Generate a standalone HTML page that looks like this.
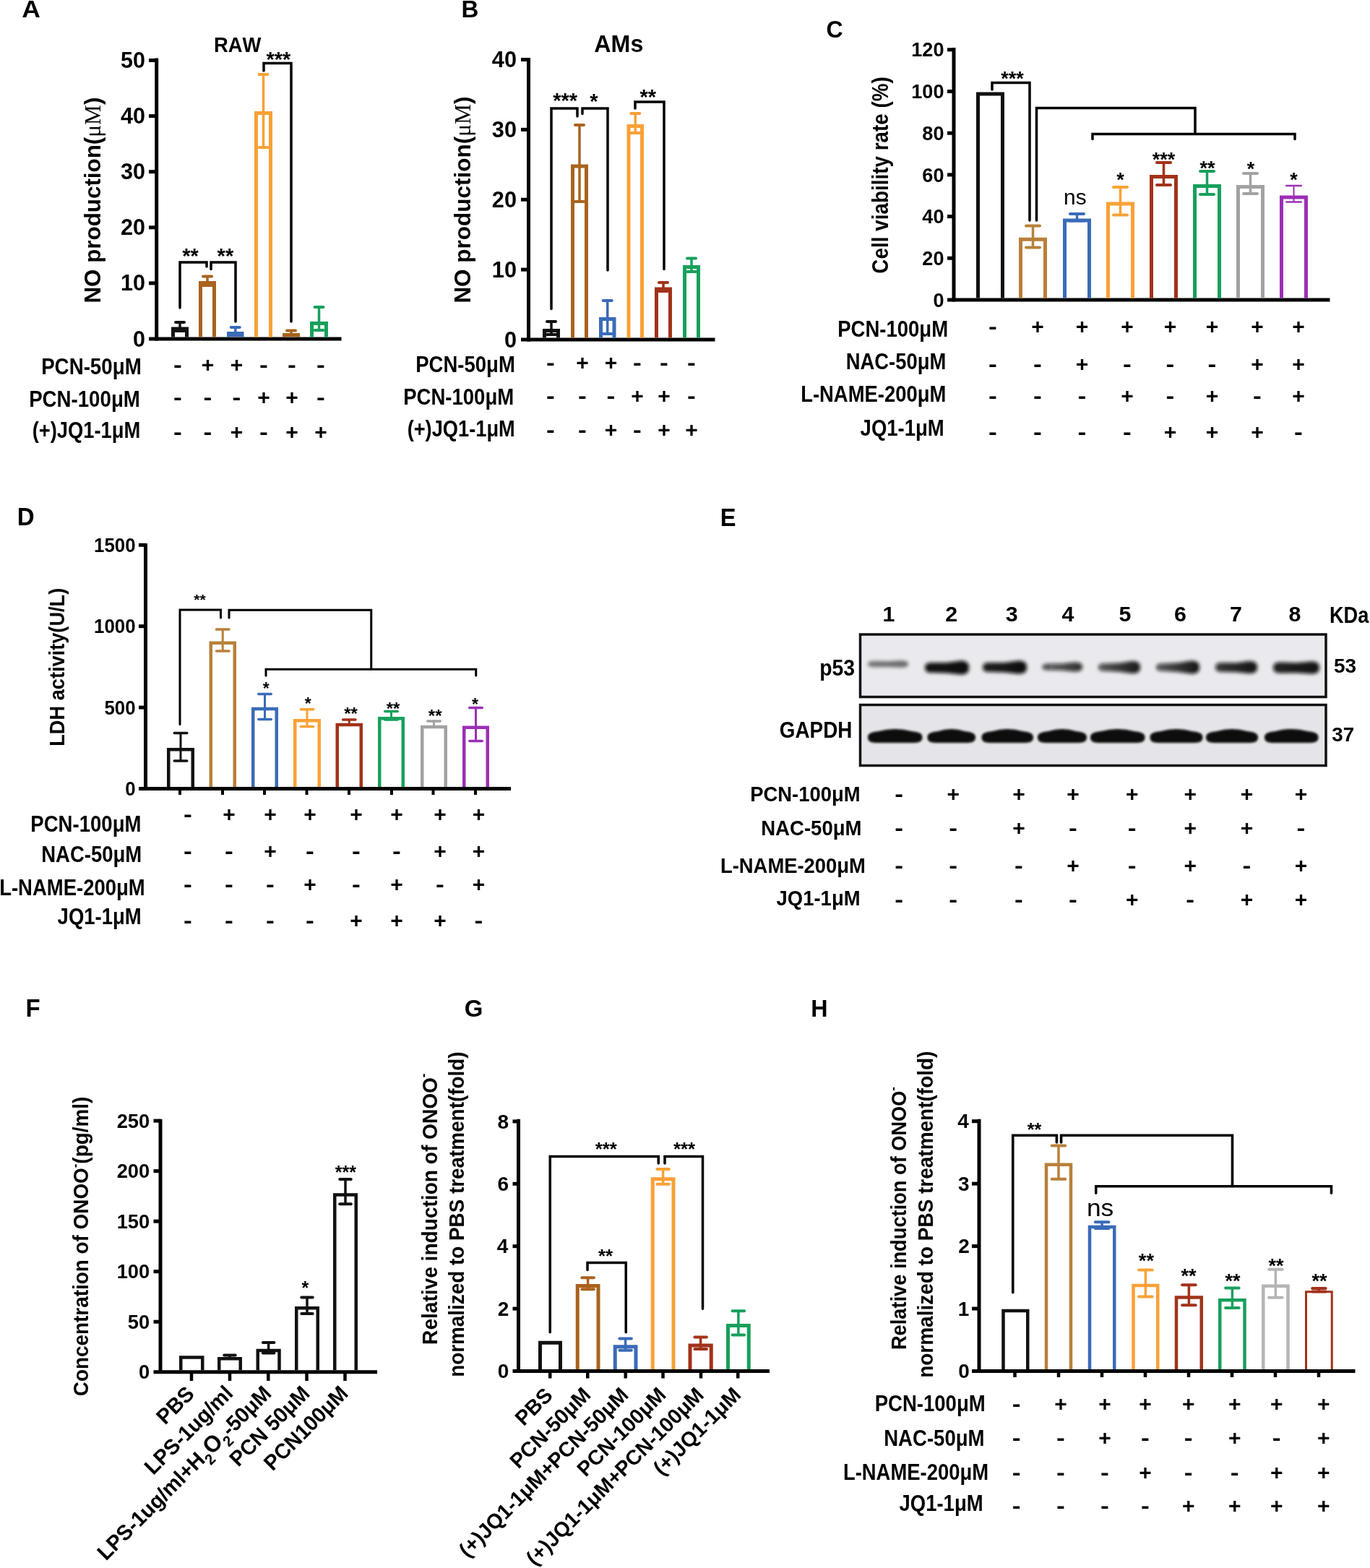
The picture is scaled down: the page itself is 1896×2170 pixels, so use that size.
<!DOCTYPE html>
<html><head><meta charset="utf-8"><title>Figure</title>
<style>html,body{margin:0;padding:0;background:#fff;} svg{display:block;} text{font-kerning:none;}</style>
</head><body>
<svg width="1896" height="2170" viewBox="0 0 1896 2170">
<rect width="1896" height="2170" fill="#fff"/>
<text transform="translate(30.36,24.10) scale(1.0549,1)" font-family='"Liberation Sans", Arial, sans-serif' font-weight="bold" font-size="33.70" fill="#000">A</text>
<text transform="translate(295.97,71.50) scale(0.9046,1)" font-family='"Liberation Sans", Arial, sans-serif' font-weight="bold" font-size="30.30" fill="#000">RAW</text>
<line x1="216.70" y1="80.60" x2="216.70" y2="471.50" stroke="#000" stroke-width="5" stroke-linecap="butt"/>
<line x1="206.00" y1="469.00" x2="472.50" y2="469.00" stroke="#000" stroke-width="5" stroke-linecap="butt"/>
<line x1="206.00" y1="391.90" x2="216.70" y2="391.90" stroke="#000" stroke-width="5" stroke-linecap="butt"/>
<line x1="206.00" y1="314.80" x2="216.70" y2="314.80" stroke="#000" stroke-width="5" stroke-linecap="butt"/>
<line x1="206.00" y1="237.70" x2="216.70" y2="237.70" stroke="#000" stroke-width="5" stroke-linecap="butt"/>
<line x1="206.00" y1="160.60" x2="216.70" y2="160.60" stroke="#000" stroke-width="5" stroke-linecap="butt"/>
<line x1="206.00" y1="83.50" x2="216.70" y2="83.50" stroke="#000" stroke-width="5" stroke-linecap="butt"/>
<text transform="translate(184.06,479.53) scale(0.9982,1)" font-family='"Liberation Sans", Arial, sans-serif' font-weight="bold" font-size="30.60" fill="#000">0</text>
<text transform="translate(167.08,402.43) scale(0.9982,1)" font-family='"Liberation Sans", Arial, sans-serif' font-weight="bold" font-size="30.60" fill="#000">10</text>
<text transform="translate(167.08,325.33) scale(0.9982,1)" font-family='"Liberation Sans", Arial, sans-serif' font-weight="bold" font-size="30.60" fill="#000">20</text>
<text transform="translate(167.08,248.21) scale(0.9982,1)" font-family='"Liberation Sans", Arial, sans-serif' font-weight="bold" font-size="30.60" fill="#000">30</text>
<text transform="translate(167.08,171.13) scale(0.9982,1)" font-family='"Liberation Sans", Arial, sans-serif' font-weight="bold" font-size="30.60" fill="#000">40</text>
<text transform="translate(167.08,94.03) scale(0.9982,1)" font-family='"Liberation Sans", Arial, sans-serif' font-weight="bold" font-size="30.60" fill="#000">50</text>
<text transform="translate(138.80,419.60) rotate(-90) scale(1.0285,1)" font-family='"Liberation Sans", Arial, sans-serif' font-weight="bold" font-size="30.50" fill="#000">NO production(<tspan font-family='"Liberation Serif", "Times New Roman", serif' font-weight="normal">μM</tspan>)</text>
<path d="M239.50,466.60 V455.00 H258.50 V466.60" fill="none" stroke="#111111" stroke-width="5" stroke-linejoin="miter" stroke-linecap="butt"/>
<line x1="249.00" y1="454.50" x2="249.00" y2="446.00" stroke="#111111" stroke-width="3.5" stroke-linecap="butt"/>
<line x1="243.00" y1="446.00" x2="255.00" y2="446.00" stroke="#111111" stroke-width="4" stroke-linecap="round"/>
<line x1="249.00" y1="454.50" x2="249.00" y2="458.00" stroke="#111111" stroke-width="3.5" stroke-linecap="butt"/>
<line x1="243.00" y1="458.00" x2="255.00" y2="458.00" stroke="#111111" stroke-width="4" stroke-linecap="round"/>
<path d="M277.50,466.60 V391.50 H296.50 V466.60" fill="none" stroke="#A9631D" stroke-width="5" stroke-linejoin="miter" stroke-linecap="butt"/>
<line x1="287.00" y1="391.00" x2="287.00" y2="382.50" stroke="#A9631D" stroke-width="3.5" stroke-linecap="butt"/>
<line x1="281.00" y1="382.50" x2="293.00" y2="382.50" stroke="#A9631D" stroke-width="4" stroke-linecap="round"/>
<line x1="287.00" y1="391.00" x2="287.00" y2="395.00" stroke="#A9631D" stroke-width="3.5" stroke-linecap="butt"/>
<line x1="281.00" y1="395.00" x2="293.00" y2="395.00" stroke="#A9631D" stroke-width="4" stroke-linecap="round"/>
<path d="M316.50,466.60 V461.50 H335.00 V466.60" fill="none" stroke="#3A6BB8" stroke-width="5" stroke-linejoin="miter" stroke-linecap="butt"/>
<line x1="325.75" y1="461.00" x2="325.75" y2="453.00" stroke="#3A6BB8" stroke-width="3.5" stroke-linecap="butt"/>
<line x1="319.75" y1="453.00" x2="331.75" y2="453.00" stroke="#3A6BB8" stroke-width="4" stroke-linecap="round"/>
<line x1="325.75" y1="461.00" x2="325.75" y2="464.00" stroke="#3A6BB8" stroke-width="3.5" stroke-linecap="butt"/>
<line x1="319.75" y1="464.00" x2="331.75" y2="464.00" stroke="#3A6BB8" stroke-width="4" stroke-linecap="round"/>
<path d="M354.50,466.60 V156.50 H374.50 V466.60" fill="none" stroke="#F9A136" stroke-width="5" stroke-linejoin="miter" stroke-linecap="butt"/>
<line x1="364.50" y1="156.00" x2="364.50" y2="103.00" stroke="#F9A136" stroke-width="3.5" stroke-linecap="butt"/>
<line x1="358.50" y1="103.00" x2="370.50" y2="103.00" stroke="#F9A136" stroke-width="4" stroke-linecap="round"/>
<line x1="364.50" y1="156.00" x2="364.50" y2="204.00" stroke="#F9A136" stroke-width="3.5" stroke-linecap="butt"/>
<line x1="358.50" y1="204.00" x2="370.50" y2="204.00" stroke="#F9A136" stroke-width="4" stroke-linecap="round"/>
<path d="M393.50,466.60 V463.50 H412.50 V466.60" fill="none" stroke="#A9631D" stroke-width="5" stroke-linejoin="miter" stroke-linecap="butt"/>
<line x1="403.00" y1="463.00" x2="403.00" y2="457.50" stroke="#A9631D" stroke-width="3.5" stroke-linecap="butt"/>
<line x1="397.00" y1="457.50" x2="409.00" y2="457.50" stroke="#A9631D" stroke-width="4" stroke-linecap="round"/>
<line x1="403.00" y1="463.00" x2="403.00" y2="464.00" stroke="#A9631D" stroke-width="3.5" stroke-linecap="butt"/>
<line x1="397.00" y1="464.00" x2="409.00" y2="464.00" stroke="#A9631D" stroke-width="4" stroke-linecap="round"/>
<path d="M431.50,466.60 V447.50 H451.50 V466.60" fill="none" stroke="#17A05C" stroke-width="5" stroke-linejoin="miter" stroke-linecap="butt"/>
<line x1="441.50" y1="447.00" x2="441.50" y2="425.00" stroke="#17A05C" stroke-width="3.5" stroke-linecap="butt"/>
<line x1="435.50" y1="425.00" x2="447.50" y2="425.00" stroke="#17A05C" stroke-width="4" stroke-linecap="round"/>
<line x1="441.50" y1="447.00" x2="441.50" y2="457.00" stroke="#17A05C" stroke-width="3.5" stroke-linecap="butt"/>
<line x1="435.50" y1="457.00" x2="447.50" y2="457.00" stroke="#17A05C" stroke-width="4" stroke-linecap="round"/>
<path d="M249,426 V363 H286 V369" fill="none" stroke="#000" stroke-width="3.5" stroke-linecap="round" stroke-linejoin="miter"/>
<path d="M292,372.5 V363 H326 V445" fill="none" stroke="#000" stroke-width="3.5" stroke-linecap="round" stroke-linejoin="miter"/>
<path d="M365,98 V87.5 H403 V445" fill="none" stroke="#000" stroke-width="3.5" stroke-linecap="round" stroke-linejoin="miter"/>
<text transform="translate(252.29,363.95)" font-family='"Liberation Sans", Arial, sans-serif' font-weight="bold" font-size="29.00" fill="#000">**</text>
<text transform="translate(300.59,363.95)" font-family='"Liberation Sans", Arial, sans-serif' font-weight="bold" font-size="29.00" fill="#000">**</text>
<text transform="translate(368.54,92.45)" font-family='"Liberation Sans", Arial, sans-serif' font-weight="bold" font-size="29.00" fill="#000">***</text>
<text transform="translate(57.14,518.00) scale(0.9093,1)" font-family='"Liberation Sans", Arial, sans-serif' font-weight="bold" font-size="30.50" fill="#000">PCN-50μM</text>
<text transform="translate(40.15,563.00) scale(0.9067,1)" font-family='"Liberation Sans", Arial, sans-serif' font-weight="bold" font-size="30.50" fill="#000">PCN-100μM</text>
<text transform="translate(44.64,605.50) scale(0.8966,1)" font-family='"Liberation Sans", Arial, sans-serif' font-weight="bold" font-size="30.50" fill="#000">(+)JQ1-1μM</text>
<text transform="translate(240.12,515.48) scale(1.1800,1)" font-family='"Liberation Sans", Arial, sans-serif' font-weight="bold" font-size="30.00" fill="#000">-</text>
<text transform="translate(278.72,515.48)" font-family='"Liberation Sans", Arial, sans-serif' font-weight="bold" font-size="30.00" fill="#000">+</text>
<text transform="translate(318.72,515.48)" font-family='"Liberation Sans", Arial, sans-serif' font-weight="bold" font-size="30.00" fill="#000">+</text>
<text transform="translate(359.12,515.48) scale(1.1800,1)" font-family='"Liberation Sans", Arial, sans-serif' font-weight="bold" font-size="30.00" fill="#000">-</text>
<text transform="translate(398.12,515.48) scale(1.1800,1)" font-family='"Liberation Sans", Arial, sans-serif' font-weight="bold" font-size="30.00" fill="#000">-</text>
<text transform="translate(438.12,515.48) scale(1.1800,1)" font-family='"Liberation Sans", Arial, sans-serif' font-weight="bold" font-size="30.00" fill="#000">-</text>
<text transform="translate(240.12,560.48) scale(1.1800,1)" font-family='"Liberation Sans", Arial, sans-serif' font-weight="bold" font-size="30.00" fill="#000">-</text>
<text transform="translate(281.62,560.48) scale(1.1800,1)" font-family='"Liberation Sans", Arial, sans-serif' font-weight="bold" font-size="30.00" fill="#000">-</text>
<text transform="translate(321.62,560.48) scale(1.1800,1)" font-family='"Liberation Sans", Arial, sans-serif' font-weight="bold" font-size="30.00" fill="#000">-</text>
<text transform="translate(356.22,560.48)" font-family='"Liberation Sans", Arial, sans-serif' font-weight="bold" font-size="30.00" fill="#000">+</text>
<text transform="translate(395.22,560.48)" font-family='"Liberation Sans", Arial, sans-serif' font-weight="bold" font-size="30.00" fill="#000">+</text>
<text transform="translate(438.12,560.48) scale(1.1800,1)" font-family='"Liberation Sans", Arial, sans-serif' font-weight="bold" font-size="30.00" fill="#000">-</text>
<text transform="translate(240.12,607.98) scale(1.1800,1)" font-family='"Liberation Sans", Arial, sans-serif' font-weight="bold" font-size="30.00" fill="#000">-</text>
<text transform="translate(281.62,607.98) scale(1.1800,1)" font-family='"Liberation Sans", Arial, sans-serif' font-weight="bold" font-size="30.00" fill="#000">-</text>
<text transform="translate(318.72,607.98)" font-family='"Liberation Sans", Arial, sans-serif' font-weight="bold" font-size="30.00" fill="#000">+</text>
<text transform="translate(359.12,607.98) scale(1.1800,1)" font-family='"Liberation Sans", Arial, sans-serif' font-weight="bold" font-size="30.00" fill="#000">-</text>
<text transform="translate(395.22,607.98)" font-family='"Liberation Sans", Arial, sans-serif' font-weight="bold" font-size="30.00" fill="#000">+</text>
<text transform="translate(435.22,607.98)" font-family='"Liberation Sans", Arial, sans-serif' font-weight="bold" font-size="30.00" fill="#000">+</text>
<text transform="translate(638.58,24.10) scale(0.9829,1)" font-family='"Liberation Sans", Arial, sans-serif' font-weight="bold" font-size="33.70" fill="#000">B</text>
<text transform="translate(822.30,71.80) scale(0.9476,1)" font-family='"Liberation Sans", Arial, sans-serif' font-weight="bold" font-size="34.00" fill="#000">AMs</text>
<line x1="731.50" y1="80.00" x2="731.50" y2="472.50" stroke="#000" stroke-width="5" stroke-linecap="butt"/>
<line x1="721.00" y1="470.00" x2="989.50" y2="470.00" stroke="#000" stroke-width="5" stroke-linecap="butt"/>
<line x1="721.00" y1="373.12" x2="731.50" y2="373.12" stroke="#000" stroke-width="5" stroke-linecap="butt"/>
<line x1="721.00" y1="276.25" x2="731.50" y2="276.25" stroke="#000" stroke-width="5" stroke-linecap="butt"/>
<line x1="721.00" y1="179.38" x2="731.50" y2="179.38" stroke="#000" stroke-width="5" stroke-linecap="butt"/>
<line x1="721.00" y1="82.50" x2="731.50" y2="82.50" stroke="#000" stroke-width="5" stroke-linecap="butt"/>
<text transform="translate(697.96,480.53) scale(1.0047,1)" font-family='"Liberation Sans", Arial, sans-serif' font-weight="bold" font-size="30.60" fill="#000">0</text>
<text transform="translate(680.86,383.66) scale(1.0047,1)" font-family='"Liberation Sans", Arial, sans-serif' font-weight="bold" font-size="30.60" fill="#000">10</text>
<text transform="translate(680.86,286.78) scale(1.0047,1)" font-family='"Liberation Sans", Arial, sans-serif' font-weight="bold" font-size="30.60" fill="#000">20</text>
<text transform="translate(680.86,189.89) scale(1.0047,1)" font-family='"Liberation Sans", Arial, sans-serif' font-weight="bold" font-size="30.60" fill="#000">30</text>
<text transform="translate(680.86,93.03) scale(1.0047,1)" font-family='"Liberation Sans", Arial, sans-serif' font-weight="bold" font-size="30.60" fill="#000">40</text>
<text transform="translate(651.20,419.61) rotate(-90) scale(1.0322,1)" font-family='"Liberation Sans", Arial, sans-serif' font-weight="bold" font-size="30.50" fill="#000">NO production(<tspan font-family='"Liberation Serif", "Times New Roman", serif' font-weight="normal">μM</tspan>)</text>
<path d="M753.50,467.60 V457.50 H772.50 V467.60" fill="none" stroke="#111111" stroke-width="5" stroke-linejoin="miter" stroke-linecap="butt"/>
<line x1="763.00" y1="457.00" x2="763.00" y2="445.00" stroke="#111111" stroke-width="3.5" stroke-linecap="butt"/>
<line x1="757.00" y1="445.00" x2="769.00" y2="445.00" stroke="#111111" stroke-width="4" stroke-linecap="round"/>
<line x1="763.00" y1="457.00" x2="763.00" y2="463.00" stroke="#111111" stroke-width="3.5" stroke-linecap="butt"/>
<line x1="757.00" y1="463.00" x2="769.00" y2="463.00" stroke="#111111" stroke-width="4" stroke-linecap="round"/>
<path d="M792.50,467.60 V230.00 H811.50 V467.60" fill="none" stroke="#A9631D" stroke-width="5" stroke-linejoin="miter" stroke-linecap="butt"/>
<line x1="802.00" y1="229.50" x2="802.00" y2="173.00" stroke="#A9631D" stroke-width="3.5" stroke-linecap="butt"/>
<line x1="796.00" y1="173.00" x2="808.00" y2="173.00" stroke="#A9631D" stroke-width="4" stroke-linecap="round"/>
<line x1="802.00" y1="229.50" x2="802.00" y2="279.00" stroke="#A9631D" stroke-width="3.5" stroke-linecap="butt"/>
<line x1="796.00" y1="279.00" x2="808.00" y2="279.00" stroke="#A9631D" stroke-width="4" stroke-linecap="round"/>
<path d="M831.50,467.60 V441.50 H850.00 V467.60" fill="none" stroke="#3A6BB8" stroke-width="5" stroke-linejoin="miter" stroke-linecap="butt"/>
<line x1="840.75" y1="441.00" x2="840.75" y2="416.00" stroke="#3A6BB8" stroke-width="3.5" stroke-linecap="butt"/>
<line x1="834.75" y1="416.00" x2="846.75" y2="416.00" stroke="#3A6BB8" stroke-width="4" stroke-linecap="round"/>
<line x1="840.75" y1="441.00" x2="840.75" y2="462.00" stroke="#3A6BB8" stroke-width="3.5" stroke-linecap="butt"/>
<line x1="834.75" y1="462.00" x2="846.75" y2="462.00" stroke="#3A6BB8" stroke-width="4" stroke-linecap="round"/>
<path d="M870.00,467.60 V174.50 H888.50 V467.60" fill="none" stroke="#F9A136" stroke-width="5" stroke-linejoin="miter" stroke-linecap="butt"/>
<line x1="879.25" y1="174.00" x2="879.25" y2="157.00" stroke="#F9A136" stroke-width="3.5" stroke-linecap="butt"/>
<line x1="873.25" y1="157.00" x2="885.25" y2="157.00" stroke="#F9A136" stroke-width="4" stroke-linecap="round"/>
<line x1="879.25" y1="174.00" x2="879.25" y2="184.00" stroke="#F9A136" stroke-width="3.5" stroke-linecap="butt"/>
<line x1="873.25" y1="184.00" x2="885.25" y2="184.00" stroke="#F9A136" stroke-width="4" stroke-linecap="round"/>
<path d="M908.50,467.60 V400.00 H927.50 V467.60" fill="none" stroke="#A2321A" stroke-width="5" stroke-linejoin="miter" stroke-linecap="butt"/>
<line x1="918.00" y1="399.50" x2="918.00" y2="391.00" stroke="#A2321A" stroke-width="3.5" stroke-linecap="butt"/>
<line x1="912.00" y1="391.00" x2="924.00" y2="391.00" stroke="#A2321A" stroke-width="4" stroke-linecap="round"/>
<line x1="918.00" y1="399.50" x2="918.00" y2="403.00" stroke="#A2321A" stroke-width="3.5" stroke-linecap="butt"/>
<line x1="912.00" y1="403.00" x2="924.00" y2="403.00" stroke="#A2321A" stroke-width="4" stroke-linecap="round"/>
<path d="M947.50,467.60 V369.50 H966.50 V467.60" fill="none" stroke="#17A05C" stroke-width="5" stroke-linejoin="miter" stroke-linecap="butt"/>
<line x1="957.00" y1="369.00" x2="957.00" y2="357.50" stroke="#17A05C" stroke-width="3.5" stroke-linecap="butt"/>
<line x1="951.00" y1="357.50" x2="963.00" y2="357.50" stroke="#17A05C" stroke-width="4" stroke-linecap="round"/>
<line x1="957.00" y1="369.00" x2="957.00" y2="376.00" stroke="#17A05C" stroke-width="3.5" stroke-linecap="butt"/>
<line x1="951.00" y1="376.00" x2="963.00" y2="376.00" stroke="#17A05C" stroke-width="4" stroke-linecap="round"/>
<path d="M763,427.5 V150 H799 V161" fill="none" stroke="#000" stroke-width="3.5" stroke-linecap="round" stroke-linejoin="miter"/>
<path d="M806,157.5 V150 H841 V374" fill="none" stroke="#000" stroke-width="3.5" stroke-linecap="round" stroke-linejoin="miter"/>
<path d="M879,150 V141 H919 V372.5" fill="none" stroke="#000" stroke-width="3.5" stroke-linecap="round" stroke-linejoin="miter"/>
<text transform="translate(765.24,148.95)" font-family='"Liberation Sans", Arial, sans-serif' font-weight="bold" font-size="29.00" fill="#000">***</text>
<text transform="translate(816.13,149.95)" font-family='"Liberation Sans", Arial, sans-serif' font-weight="bold" font-size="29.00" fill="#000">*</text>
<text transform="translate(885.49,143.95)" font-family='"Liberation Sans", Arial, sans-serif' font-weight="bold" font-size="29.00" fill="#000">**</text>
<text transform="translate(575.16,515.00) scale(0.9026,1)" font-family='"Liberation Sans", Arial, sans-serif' font-weight="bold" font-size="30.50" fill="#000">PCN-50μM</text>
<text transform="translate(558.16,560.00) scale(0.9037,1)" font-family='"Liberation Sans", Arial, sans-serif' font-weight="bold" font-size="30.50" fill="#000">PCN-100μM</text>
<text transform="translate(563.64,604.00) scale(0.8935,1)" font-family='"Liberation Sans", Arial, sans-serif' font-weight="bold" font-size="30.50" fill="#000">(+)JQ1-1μM</text>
<text transform="translate(756.12,512.48) scale(1.1800,1)" font-family='"Liberation Sans", Arial, sans-serif' font-weight="bold" font-size="30.00" fill="#000">-</text>
<text transform="translate(797.22,512.48)" font-family='"Liberation Sans", Arial, sans-serif' font-weight="bold" font-size="30.00" fill="#000">+</text>
<text transform="translate(836.72,512.48)" font-family='"Liberation Sans", Arial, sans-serif' font-weight="bold" font-size="30.00" fill="#000">+</text>
<text transform="translate(876.12,512.48) scale(1.1800,1)" font-family='"Liberation Sans", Arial, sans-serif' font-weight="bold" font-size="30.00" fill="#000">-</text>
<text transform="translate(913.12,512.48) scale(1.1800,1)" font-family='"Liberation Sans", Arial, sans-serif' font-weight="bold" font-size="30.00" fill="#000">-</text>
<text transform="translate(951.12,512.48) scale(1.1800,1)" font-family='"Liberation Sans", Arial, sans-serif' font-weight="bold" font-size="30.00" fill="#000">-</text>
<text transform="translate(756.12,557.98) scale(1.1800,1)" font-family='"Liberation Sans", Arial, sans-serif' font-weight="bold" font-size="30.00" fill="#000">-</text>
<text transform="translate(800.12,557.98) scale(1.1800,1)" font-family='"Liberation Sans", Arial, sans-serif' font-weight="bold" font-size="30.00" fill="#000">-</text>
<text transform="translate(839.62,557.98) scale(1.1800,1)" font-family='"Liberation Sans", Arial, sans-serif' font-weight="bold" font-size="30.00" fill="#000">-</text>
<text transform="translate(873.22,557.98)" font-family='"Liberation Sans", Arial, sans-serif' font-weight="bold" font-size="30.00" fill="#000">+</text>
<text transform="translate(910.22,557.98)" font-family='"Liberation Sans", Arial, sans-serif' font-weight="bold" font-size="30.00" fill="#000">+</text>
<text transform="translate(951.12,557.98) scale(1.1800,1)" font-family='"Liberation Sans", Arial, sans-serif' font-weight="bold" font-size="30.00" fill="#000">-</text>
<text transform="translate(756.12,604.98) scale(1.1800,1)" font-family='"Liberation Sans", Arial, sans-serif' font-weight="bold" font-size="30.00" fill="#000">-</text>
<text transform="translate(800.12,604.98) scale(1.1800,1)" font-family='"Liberation Sans", Arial, sans-serif' font-weight="bold" font-size="30.00" fill="#000">-</text>
<text transform="translate(836.72,604.98)" font-family='"Liberation Sans", Arial, sans-serif' font-weight="bold" font-size="30.00" fill="#000">+</text>
<text transform="translate(876.12,604.98) scale(1.1800,1)" font-family='"Liberation Sans", Arial, sans-serif' font-weight="bold" font-size="30.00" fill="#000">-</text>
<text transform="translate(910.22,604.98)" font-family='"Liberation Sans", Arial, sans-serif' font-weight="bold" font-size="30.00" fill="#000">+</text>
<text transform="translate(948.22,604.98)" font-family='"Liberation Sans", Arial, sans-serif' font-weight="bold" font-size="30.00" fill="#000">+</text>
<text transform="translate(1143.48,52.30) scale(0.9447,1)" font-family='"Liberation Sans", Arial, sans-serif' font-weight="bold" font-size="34.00" fill="#000">C</text>
<line x1="1320.00" y1="66.00" x2="1320.00" y2="417.50" stroke="#000" stroke-width="5" stroke-linecap="butt"/>
<line x1="1311.00" y1="415.00" x2="1840.50" y2="415.00" stroke="#000" stroke-width="5" stroke-linecap="butt"/>
<line x1="1311.00" y1="357.30" x2="1320.00" y2="357.30" stroke="#000" stroke-width="5" stroke-linecap="butt"/>
<line x1="1311.00" y1="299.60" x2="1320.00" y2="299.60" stroke="#000" stroke-width="5" stroke-linecap="butt"/>
<line x1="1311.00" y1="241.90" x2="1320.00" y2="241.90" stroke="#000" stroke-width="5" stroke-linecap="butt"/>
<line x1="1311.00" y1="184.20" x2="1320.00" y2="184.20" stroke="#000" stroke-width="5" stroke-linecap="butt"/>
<line x1="1311.00" y1="126.50" x2="1320.00" y2="126.50" stroke="#000" stroke-width="5" stroke-linecap="butt"/>
<line x1="1311.00" y1="68.80" x2="1320.00" y2="68.80" stroke="#000" stroke-width="5" stroke-linecap="butt"/>
<text transform="translate(1291.44,424.64) scale(0.9679,1)" font-family='"Liberation Sans", Arial, sans-serif' font-weight="bold" font-size="28.00" fill="#000">0</text>
<text transform="translate(1276.37,366.94) scale(0.9679,1)" font-family='"Liberation Sans", Arial, sans-serif' font-weight="bold" font-size="28.00" fill="#000">20</text>
<text transform="translate(1276.37,309.24) scale(0.9679,1)" font-family='"Liberation Sans", Arial, sans-serif' font-weight="bold" font-size="28.00" fill="#000">40</text>
<text transform="translate(1276.37,251.54) scale(0.9679,1)" font-family='"Liberation Sans", Arial, sans-serif' font-weight="bold" font-size="28.00" fill="#000">60</text>
<text transform="translate(1276.37,193.84) scale(0.9679,1)" font-family='"Liberation Sans", Arial, sans-serif' font-weight="bold" font-size="28.00" fill="#000">80</text>
<text transform="translate(1261.29,136.14) scale(0.9679,1)" font-family='"Liberation Sans", Arial, sans-serif' font-weight="bold" font-size="28.00" fill="#000">100</text>
<text transform="translate(1261.29,78.44) scale(0.9679,1)" font-family='"Liberation Sans", Arial, sans-serif' font-weight="bold" font-size="28.00" fill="#000">120</text>
<text transform="translate(1229.00,378.64) rotate(-90) scale(0.8988,1)" font-family='"Liberation Sans", Arial, sans-serif' font-weight="bold" font-size="31.00" fill="#000">Cell viability rate (%)</text>
<path d="M1353.50,412.60 V130.00 H1387.50 V412.60" fill="none" stroke="#111111" stroke-width="5" stroke-linejoin="miter" stroke-linecap="butt"/>
<path d="M1412.50,412.60 V331.25 H1446.50 V412.60" fill="none" stroke="#B8803A" stroke-width="5" stroke-linejoin="miter" stroke-linecap="butt"/>
<line x1="1429.50" y1="330.75" x2="1429.50" y2="312.50" stroke="#B8803A" stroke-width="3.5" stroke-linecap="butt"/>
<line x1="1420.00" y1="312.50" x2="1439.00" y2="312.50" stroke="#B8803A" stroke-width="4.0" stroke-linecap="round"/>
<line x1="1429.50" y1="330.75" x2="1429.50" y2="342.50" stroke="#B8803A" stroke-width="3.5" stroke-linecap="butt"/>
<line x1="1420.00" y1="342.50" x2="1439.00" y2="342.50" stroke="#B8803A" stroke-width="4.0" stroke-linecap="round"/>
<path d="M1473.50,412.60 V305.00 H1507.50 V412.60" fill="none" stroke="#3A6BB8" stroke-width="5" stroke-linejoin="miter" stroke-linecap="butt"/>
<line x1="1490.50" y1="304.50" x2="1490.50" y2="296.00" stroke="#3A6BB8" stroke-width="3.5" stroke-linecap="butt"/>
<line x1="1481.00" y1="296.00" x2="1500.00" y2="296.00" stroke="#3A6BB8" stroke-width="4.0" stroke-linecap="round"/>
<line x1="1490.50" y1="304.50" x2="1490.50" y2="305.50" stroke="#3A6BB8" stroke-width="3.5" stroke-linecap="butt"/>
<line x1="1481.00" y1="305.50" x2="1500.00" y2="305.50" stroke="#3A6BB8" stroke-width="4.0" stroke-linecap="round"/>
<path d="M1533.50,412.60 V282.00 H1567.50 V412.60" fill="none" stroke="#F9A136" stroke-width="5" stroke-linejoin="miter" stroke-linecap="butt"/>
<line x1="1550.50" y1="281.50" x2="1550.50" y2="259.00" stroke="#F9A136" stroke-width="3.5" stroke-linecap="butt"/>
<line x1="1541.00" y1="259.00" x2="1560.00" y2="259.00" stroke="#F9A136" stroke-width="4.0" stroke-linecap="round"/>
<line x1="1550.50" y1="281.50" x2="1550.50" y2="297.50" stroke="#F9A136" stroke-width="3.5" stroke-linecap="butt"/>
<line x1="1541.00" y1="297.50" x2="1560.00" y2="297.50" stroke="#F9A136" stroke-width="4.0" stroke-linecap="round"/>
<path d="M1593.50,412.60 V244.50 H1627.50 V412.60" fill="none" stroke="#A2321A" stroke-width="5" stroke-linejoin="miter" stroke-linecap="butt"/>
<line x1="1610.50" y1="244.00" x2="1610.50" y2="225.00" stroke="#A2321A" stroke-width="3.5" stroke-linecap="butt"/>
<line x1="1601.00" y1="225.00" x2="1620.00" y2="225.00" stroke="#A2321A" stroke-width="4.0" stroke-linecap="round"/>
<line x1="1610.50" y1="244.00" x2="1610.50" y2="256.00" stroke="#A2321A" stroke-width="3.5" stroke-linecap="butt"/>
<line x1="1601.00" y1="256.00" x2="1620.00" y2="256.00" stroke="#A2321A" stroke-width="4.0" stroke-linecap="round"/>
<path d="M1653.50,412.60 V257.50 H1687.50 V412.60" fill="none" stroke="#17A05C" stroke-width="5" stroke-linejoin="miter" stroke-linecap="butt"/>
<line x1="1670.50" y1="257.00" x2="1670.50" y2="237.00" stroke="#17A05C" stroke-width="3.5" stroke-linecap="butt"/>
<line x1="1661.00" y1="237.00" x2="1680.00" y2="237.00" stroke="#17A05C" stroke-width="4.0" stroke-linecap="round"/>
<line x1="1670.50" y1="257.00" x2="1670.50" y2="269.00" stroke="#17A05C" stroke-width="3.5" stroke-linecap="butt"/>
<line x1="1661.00" y1="269.00" x2="1680.00" y2="269.00" stroke="#17A05C" stroke-width="4.0" stroke-linecap="round"/>
<path d="M1713.50,412.60 V258.50 H1747.50 V412.60" fill="none" stroke="#A3A1A3" stroke-width="5" stroke-linejoin="miter" stroke-linecap="butt"/>
<line x1="1730.50" y1="258.00" x2="1730.50" y2="240.00" stroke="#A3A1A3" stroke-width="3.5" stroke-linecap="butt"/>
<line x1="1721.00" y1="240.00" x2="1740.00" y2="240.00" stroke="#A3A1A3" stroke-width="4.0" stroke-linecap="round"/>
<line x1="1730.50" y1="258.00" x2="1730.50" y2="268.00" stroke="#A3A1A3" stroke-width="3.5" stroke-linecap="butt"/>
<line x1="1721.00" y1="268.00" x2="1740.00" y2="268.00" stroke="#A3A1A3" stroke-width="4.0" stroke-linecap="round"/>
<path d="M1773.50,412.60 V273.00 H1807.50 V412.60" fill="none" stroke="#9B2FB5" stroke-width="5" stroke-linejoin="miter" stroke-linecap="butt"/>
<line x1="1790.50" y1="272.50" x2="1790.50" y2="257.00" stroke="#9B2FB5" stroke-width="2" stroke-linecap="butt"/>
<line x1="1780.25" y1="257.00" x2="1800.75" y2="257.00" stroke="#9B2FB5" stroke-width="2.5" stroke-linecap="round"/>
<line x1="1790.50" y1="272.50" x2="1790.50" y2="279.50" stroke="#9B2FB5" stroke-width="2" stroke-linecap="butt"/>
<line x1="1780.25" y1="279.50" x2="1800.75" y2="279.50" stroke="#9B2FB5" stroke-width="2.5" stroke-linecap="round"/>
<path d="M1373,124 V114.5 H1425 V305" fill="none" stroke="#000" stroke-width="3.5" stroke-linecap="round" stroke-linejoin="miter"/>
<path d="M1434.5,305 V149.5 H1654 V185" fill="none" stroke="#000" stroke-width="3.5" stroke-linecap="round" stroke-linejoin="miter"/>
<path d="M1512,192.5 V185.5 H1792 V192.5" fill="none" stroke="#000" stroke-width="3.5" stroke-linecap="round" stroke-linejoin="miter"/>
<text transform="translate(1385.21,117.58)" font-family='"Liberation Sans", Arial, sans-serif' font-weight="bold" font-size="27.00" fill="#000">***</text>
<text transform="translate(1545.22,257.58)" font-family='"Liberation Sans", Arial, sans-serif' font-weight="bold" font-size="27.00" fill="#000">*</text>
<text transform="translate(1594.71,229.58)" font-family='"Liberation Sans", Arial, sans-serif' font-weight="bold" font-size="27.00" fill="#000">***</text>
<text transform="translate(1660.47,241.58)" font-family='"Liberation Sans", Arial, sans-serif' font-weight="bold" font-size="27.00" fill="#000">**</text>
<text transform="translate(1725.72,242.58)" font-family='"Liberation Sans", Arial, sans-serif' font-weight="bold" font-size="27.00" fill="#000">*</text>
<text transform="translate(1785.22,257.58)" font-family='"Liberation Sans", Arial, sans-serif' font-weight="bold" font-size="27.00" fill="#000">*</text>
<text transform="translate(1472.02,282.50) scale(0.9962,1)" font-family='"Liberation Sans", Arial, sans-serif' font-weight="normal" font-size="30.00" fill="#000">ns</text>
<text transform="translate(1159.16,465.50) scale(0.9025,1)" font-family='"Liberation Sans", Arial, sans-serif' font-weight="bold" font-size="30.50" fill="#000">PCN-100μM</text>
<text transform="translate(1170.67,511.00) scale(0.8991,1)" font-family='"Liberation Sans", Arial, sans-serif' font-weight="bold" font-size="30.50" fill="#000">NAC-50μM</text>
<text transform="translate(1108.17,556.00) scale(0.8993,1)" font-family='"Liberation Sans", Arial, sans-serif' font-weight="bold" font-size="30.50" fill="#000">L-NAME-200μM</text>
<text transform="translate(1190.58,602.50) scale(0.9024,1)" font-family='"Liberation Sans", Arial, sans-serif' font-weight="bold" font-size="30.50" fill="#000">JQ1-1μM</text>
<text transform="translate(1368.12,461.98) scale(1.1800,1)" font-family='"Liberation Sans", Arial, sans-serif' font-weight="bold" font-size="30.00" fill="#000">-</text>
<text transform="translate(1427.22,461.98)" font-family='"Liberation Sans", Arial, sans-serif' font-weight="bold" font-size="30.00" fill="#000">+</text>
<text transform="translate(1488.72,461.98)" font-family='"Liberation Sans", Arial, sans-serif' font-weight="bold" font-size="30.00" fill="#000">+</text>
<text transform="translate(1551.22,461.98)" font-family='"Liberation Sans", Arial, sans-serif' font-weight="bold" font-size="30.00" fill="#000">+</text>
<text transform="translate(1610.72,461.98)" font-family='"Liberation Sans", Arial, sans-serif' font-weight="bold" font-size="30.00" fill="#000">+</text>
<text transform="translate(1668.72,461.98)" font-family='"Liberation Sans", Arial, sans-serif' font-weight="bold" font-size="30.00" fill="#000">+</text>
<text transform="translate(1731.22,461.98)" font-family='"Liberation Sans", Arial, sans-serif' font-weight="bold" font-size="30.00" fill="#000">+</text>
<text transform="translate(1788.22,461.98)" font-family='"Liberation Sans", Arial, sans-serif' font-weight="bold" font-size="30.00" fill="#000">+</text>
<text transform="translate(1368.12,513.98) scale(1.1800,1)" font-family='"Liberation Sans", Arial, sans-serif' font-weight="bold" font-size="30.00" fill="#000">-</text>
<text transform="translate(1430.12,513.98) scale(1.1800,1)" font-family='"Liberation Sans", Arial, sans-serif' font-weight="bold" font-size="30.00" fill="#000">-</text>
<text transform="translate(1488.72,513.98)" font-family='"Liberation Sans", Arial, sans-serif' font-weight="bold" font-size="30.00" fill="#000">+</text>
<text transform="translate(1554.12,513.98) scale(1.1800,1)" font-family='"Liberation Sans", Arial, sans-serif' font-weight="bold" font-size="30.00" fill="#000">-</text>
<text transform="translate(1613.62,513.98) scale(1.1800,1)" font-family='"Liberation Sans", Arial, sans-serif' font-weight="bold" font-size="30.00" fill="#000">-</text>
<text transform="translate(1671.62,513.98) scale(1.1800,1)" font-family='"Liberation Sans", Arial, sans-serif' font-weight="bold" font-size="30.00" fill="#000">-</text>
<text transform="translate(1731.22,513.98)" font-family='"Liberation Sans", Arial, sans-serif' font-weight="bold" font-size="30.00" fill="#000">+</text>
<text transform="translate(1788.22,513.98)" font-family='"Liberation Sans", Arial, sans-serif' font-weight="bold" font-size="30.00" fill="#000">+</text>
<text transform="translate(1368.12,558.48) scale(1.1800,1)" font-family='"Liberation Sans", Arial, sans-serif' font-weight="bold" font-size="30.00" fill="#000">-</text>
<text transform="translate(1430.12,558.48) scale(1.1800,1)" font-family='"Liberation Sans", Arial, sans-serif' font-weight="bold" font-size="30.00" fill="#000">-</text>
<text transform="translate(1491.62,558.48) scale(1.1800,1)" font-family='"Liberation Sans", Arial, sans-serif' font-weight="bold" font-size="30.00" fill="#000">-</text>
<text transform="translate(1551.22,558.48)" font-family='"Liberation Sans", Arial, sans-serif' font-weight="bold" font-size="30.00" fill="#000">+</text>
<text transform="translate(1613.62,558.48) scale(1.1800,1)" font-family='"Liberation Sans", Arial, sans-serif' font-weight="bold" font-size="30.00" fill="#000">-</text>
<text transform="translate(1668.72,558.48)" font-family='"Liberation Sans", Arial, sans-serif' font-weight="bold" font-size="30.00" fill="#000">+</text>
<text transform="translate(1734.12,558.48) scale(1.1800,1)" font-family='"Liberation Sans", Arial, sans-serif' font-weight="bold" font-size="30.00" fill="#000">-</text>
<text transform="translate(1788.22,558.48)" font-family='"Liberation Sans", Arial, sans-serif' font-weight="bold" font-size="30.00" fill="#000">+</text>
<text transform="translate(1368.12,608.48) scale(1.1800,1)" font-family='"Liberation Sans", Arial, sans-serif' font-weight="bold" font-size="30.00" fill="#000">-</text>
<text transform="translate(1430.12,608.48) scale(1.1800,1)" font-family='"Liberation Sans", Arial, sans-serif' font-weight="bold" font-size="30.00" fill="#000">-</text>
<text transform="translate(1491.62,608.48) scale(1.1800,1)" font-family='"Liberation Sans", Arial, sans-serif' font-weight="bold" font-size="30.00" fill="#000">-</text>
<text transform="translate(1554.12,608.48) scale(1.1800,1)" font-family='"Liberation Sans", Arial, sans-serif' font-weight="bold" font-size="30.00" fill="#000">-</text>
<text transform="translate(1610.72,608.48)" font-family='"Liberation Sans", Arial, sans-serif' font-weight="bold" font-size="30.00" fill="#000">+</text>
<text transform="translate(1668.72,608.48)" font-family='"Liberation Sans", Arial, sans-serif' font-weight="bold" font-size="30.00" fill="#000">+</text>
<text transform="translate(1731.22,608.48)" font-family='"Liberation Sans", Arial, sans-serif' font-weight="bold" font-size="30.00" fill="#000">+</text>
<text transform="translate(1791.12,608.48) scale(1.1800,1)" font-family='"Liberation Sans", Arial, sans-serif' font-weight="bold" font-size="30.00" fill="#000">-</text>
<text transform="translate(23.79,727.30) scale(0.9594,1)" font-family='"Liberation Sans", Arial, sans-serif' font-weight="bold" font-size="34.50" fill="#000">D</text>
<line x1="201.50" y1="752.00" x2="201.50" y2="1094.00" stroke="#000" stroke-width="5" stroke-linecap="butt"/>
<line x1="192.00" y1="1091.50" x2="707.00" y2="1091.50" stroke="#000" stroke-width="5" stroke-linecap="butt"/>
<line x1="192.00" y1="979.09" x2="201.50" y2="979.09" stroke="#000" stroke-width="5" stroke-linecap="butt"/>
<line x1="192.00" y1="866.67" x2="201.50" y2="866.67" stroke="#000" stroke-width="5" stroke-linecap="butt"/>
<line x1="192.00" y1="754.25" x2="201.50" y2="754.25" stroke="#000" stroke-width="5" stroke-linecap="butt"/>
<line x1="249.00" y1="1091.50" x2="249.00" y2="1100.00" stroke="#000" stroke-width="4" stroke-linecap="butt"/>
<line x1="308.00" y1="1091.50" x2="308.00" y2="1100.00" stroke="#000" stroke-width="4" stroke-linecap="butt"/>
<line x1="366.00" y1="1091.50" x2="366.00" y2="1100.00" stroke="#000" stroke-width="4" stroke-linecap="butt"/>
<line x1="424.50" y1="1091.50" x2="424.50" y2="1100.00" stroke="#000" stroke-width="4" stroke-linecap="butt"/>
<line x1="483.00" y1="1091.50" x2="483.00" y2="1100.00" stroke="#000" stroke-width="4" stroke-linecap="butt"/>
<line x1="542.00" y1="1091.50" x2="542.00" y2="1100.00" stroke="#000" stroke-width="4" stroke-linecap="butt"/>
<line x1="599.50" y1="1091.50" x2="599.50" y2="1100.00" stroke="#000" stroke-width="4" stroke-linecap="butt"/>
<line x1="658.00" y1="1091.50" x2="658.00" y2="1100.00" stroke="#000" stroke-width="4" stroke-linecap="butt"/>
<text transform="translate(173.26,1101.14) scale(0.9246,1)" font-family='"Liberation Sans", Arial, sans-serif' font-weight="bold" font-size="28.00" fill="#000">0</text>
<text transform="translate(144.47,988.72) scale(0.9246,1)" font-family='"Liberation Sans", Arial, sans-serif' font-weight="bold" font-size="28.00" fill="#000">500</text>
<text transform="translate(130.07,876.31) scale(0.9246,1)" font-family='"Liberation Sans", Arial, sans-serif' font-weight="bold" font-size="28.00" fill="#000">1000</text>
<text transform="translate(130.07,763.89) scale(0.9246,1)" font-family='"Liberation Sans", Arial, sans-serif' font-weight="bold" font-size="28.00" fill="#000">1500</text>
<text transform="translate(89.00,1032.82) rotate(-90) scale(0.9381,1)" font-family='"Liberation Sans", Arial, sans-serif' font-weight="bold" font-size="29.00" fill="#000">LDH activity(U/L)</text>
<path d="M233.25,1089.10 V1037.25 H266.75 V1089.10" fill="none" stroke="#111111" stroke-width="4.5" stroke-linejoin="miter" stroke-linecap="butt"/>
<line x1="250.00" y1="1037.00" x2="250.00" y2="1014.50" stroke="#111111" stroke-width="3" stroke-linecap="butt"/>
<line x1="241.25" y1="1014.50" x2="258.75" y2="1014.50" stroke="#111111" stroke-width="3.5" stroke-linecap="round"/>
<line x1="250.00" y1="1037.00" x2="250.00" y2="1053.00" stroke="#111111" stroke-width="3" stroke-linecap="butt"/>
<line x1="241.25" y1="1053.00" x2="258.75" y2="1053.00" stroke="#111111" stroke-width="3.5" stroke-linecap="round"/>
<path d="M291.75,1089.10 V889.75 H324.75 V1089.10" fill="none" stroke="#B8803A" stroke-width="4.5" stroke-linejoin="miter" stroke-linecap="butt"/>
<line x1="308.25" y1="889.50" x2="308.25" y2="871.00" stroke="#B8803A" stroke-width="3" stroke-linecap="butt"/>
<line x1="299.50" y1="871.00" x2="317.00" y2="871.00" stroke="#B8803A" stroke-width="3.5" stroke-linecap="round"/>
<line x1="308.25" y1="889.50" x2="308.25" y2="901.00" stroke="#B8803A" stroke-width="3" stroke-linecap="butt"/>
<line x1="299.50" y1="901.00" x2="317.00" y2="901.00" stroke="#B8803A" stroke-width="3.5" stroke-linecap="round"/>
<path d="M350.25,1089.10 V981.00 H382.75 V1089.10" fill="none" stroke="#3A6BB8" stroke-width="4.5" stroke-linejoin="miter" stroke-linecap="butt"/>
<line x1="366.50" y1="980.75" x2="366.50" y2="960.50" stroke="#3A6BB8" stroke-width="3" stroke-linecap="butt"/>
<line x1="357.75" y1="960.50" x2="375.25" y2="960.50" stroke="#3A6BB8" stroke-width="3.5" stroke-linecap="round"/>
<line x1="366.50" y1="980.75" x2="366.50" y2="995.50" stroke="#3A6BB8" stroke-width="3" stroke-linecap="butt"/>
<line x1="357.75" y1="995.50" x2="375.25" y2="995.50" stroke="#3A6BB8" stroke-width="3.5" stroke-linecap="round"/>
<path d="M408.25,1089.10 V997.25 H441.75 V1089.10" fill="none" stroke="#F9A136" stroke-width="4.5" stroke-linejoin="miter" stroke-linecap="butt"/>
<line x1="425.00" y1="997.00" x2="425.00" y2="981.75" stroke="#F9A136" stroke-width="3" stroke-linecap="butt"/>
<line x1="416.25" y1="981.75" x2="433.75" y2="981.75" stroke="#F9A136" stroke-width="3.5" stroke-linecap="round"/>
<line x1="425.00" y1="997.00" x2="425.00" y2="1005.50" stroke="#F9A136" stroke-width="3" stroke-linecap="butt"/>
<line x1="416.25" y1="1005.50" x2="433.75" y2="1005.50" stroke="#F9A136" stroke-width="3.5" stroke-linecap="round"/>
<path d="M466.75,1089.10 V1003.00 H499.75 V1089.10" fill="none" stroke="#A2321A" stroke-width="4.5" stroke-linejoin="miter" stroke-linecap="butt"/>
<line x1="483.25" y1="1002.75" x2="483.25" y2="996.00" stroke="#A2321A" stroke-width="3" stroke-linecap="butt"/>
<line x1="474.50" y1="996.00" x2="492.00" y2="996.00" stroke="#A2321A" stroke-width="3.5" stroke-linecap="round"/>
<line x1="483.25" y1="1002.75" x2="483.25" y2="1003.00" stroke="#A2321A" stroke-width="3" stroke-linecap="butt"/>
<line x1="474.50" y1="1003.00" x2="492.00" y2="1003.00" stroke="#A2321A" stroke-width="3.5" stroke-linecap="round"/>
<path d="M525.25,1089.10 V994.25 H557.75 V1089.10" fill="none" stroke="#17A05C" stroke-width="4.5" stroke-linejoin="miter" stroke-linecap="butt"/>
<line x1="541.50" y1="994.00" x2="541.50" y2="984.50" stroke="#17A05C" stroke-width="3" stroke-linecap="butt"/>
<line x1="532.75" y1="984.50" x2="550.25" y2="984.50" stroke="#17A05C" stroke-width="3.5" stroke-linecap="round"/>
<line x1="541.50" y1="994.00" x2="541.50" y2="996.00" stroke="#17A05C" stroke-width="3" stroke-linecap="butt"/>
<line x1="532.75" y1="996.00" x2="550.25" y2="996.00" stroke="#17A05C" stroke-width="3.5" stroke-linecap="round"/>
<path d="M584.25,1089.10 V1006.00 H616.75 V1089.10" fill="none" stroke="#A3A1A3" stroke-width="4.5" stroke-linejoin="miter" stroke-linecap="butt"/>
<line x1="600.50" y1="1005.75" x2="600.50" y2="998.00" stroke="#A3A1A3" stroke-width="3" stroke-linecap="butt"/>
<line x1="591.75" y1="998.00" x2="609.25" y2="998.00" stroke="#A3A1A3" stroke-width="3.5" stroke-linecap="round"/>
<line x1="600.50" y1="1005.75" x2="600.50" y2="1006.00" stroke="#A3A1A3" stroke-width="3" stroke-linecap="butt"/>
<line x1="591.75" y1="1006.00" x2="609.25" y2="1006.00" stroke="#A3A1A3" stroke-width="3.5" stroke-linecap="round"/>
<path d="M642.25,1089.10 V1006.75 H674.75 V1089.10" fill="none" stroke="#9B2FB5" stroke-width="4.5" stroke-linejoin="miter" stroke-linecap="butt"/>
<line x1="658.50" y1="1006.50" x2="658.50" y2="979.50" stroke="#9B2FB5" stroke-width="3" stroke-linecap="butt"/>
<line x1="649.75" y1="979.50" x2="667.25" y2="979.50" stroke="#9B2FB5" stroke-width="3.5" stroke-linecap="round"/>
<line x1="658.50" y1="1006.50" x2="658.50" y2="1025.50" stroke="#9B2FB5" stroke-width="3" stroke-linecap="butt"/>
<line x1="649.75" y1="1025.50" x2="667.25" y2="1025.50" stroke="#9B2FB5" stroke-width="3.5" stroke-linecap="round"/>
<path d="M249,1002.5 V844 H305.5 V855" fill="none" stroke="#000" stroke-width="3" stroke-linecap="round" stroke-linejoin="miter"/>
<path d="M317,855 V844.25 H513.75 V926" fill="none" stroke="#000" stroke-width="3" stroke-linecap="round" stroke-linejoin="miter"/>
<path d="M368,935 V926.25 H658.75 V935" fill="none" stroke="#000" stroke-width="3" stroke-linecap="round" stroke-linejoin="miter"/>
<text transform="translate(268.31,836.95)" font-family='"Liberation Sans", Arial, sans-serif' font-weight="bold" font-size="21.00" fill="#000">**</text>
<text transform="translate(363.70,961.32)" font-family='"Liberation Sans", Arial, sans-serif' font-weight="bold" font-size="23.00" fill="#000">*</text>
<text transform="translate(421.70,981.82)" font-family='"Liberation Sans", Arial, sans-serif' font-weight="bold" font-size="23.00" fill="#000">*</text>
<text transform="translate(476.14,995.51)" font-family='"Liberation Sans", Arial, sans-serif' font-weight="bold" font-size="24.00" fill="#000">**</text>
<text transform="translate(534.64,988.51)" font-family='"Liberation Sans", Arial, sans-serif' font-weight="bold" font-size="24.00" fill="#000">**</text>
<text transform="translate(592.84,998.51)" font-family='"Liberation Sans", Arial, sans-serif' font-weight="bold" font-size="24.00" fill="#000">**</text>
<text transform="translate(653.00,982.82)" font-family='"Liberation Sans", Arial, sans-serif' font-weight="bold" font-size="23.00" fill="#000">*</text>
<text transform="translate(42.36,1150.50) scale(0.9037,1)" font-family='"Liberation Sans", Arial, sans-serif' font-weight="bold" font-size="30.50" fill="#000">PCN-100μM</text>
<text transform="translate(57.16,1193.00) scale(0.9024,1)" font-family='"Liberation Sans", Arial, sans-serif' font-weight="bold" font-size="30.50" fill="#000">NAC-50μM</text>
<text transform="translate(-0.84,1239.00) scale(0.9016,1)" font-family='"Liberation Sans", Arial, sans-serif' font-weight="bold" font-size="30.50" fill="#000">L-NAME-200μM</text>
<text transform="translate(79.58,1279.00) scale(0.9024,1)" font-family='"Liberation Sans", Arial, sans-serif' font-weight="bold" font-size="30.50" fill="#000">JQ1-1μM</text>
<text transform="translate(254.12,1136.98) scale(1.1800,1)" font-family='"Liberation Sans", Arial, sans-serif' font-weight="bold" font-size="30.00" fill="#000">-</text>
<text transform="translate(308.22,1136.98)" font-family='"Liberation Sans", Arial, sans-serif' font-weight="bold" font-size="30.00" fill="#000">+</text>
<text transform="translate(365.22,1136.98)" font-family='"Liberation Sans", Arial, sans-serif' font-weight="bold" font-size="30.00" fill="#000">+</text>
<text transform="translate(420.22,1136.98)" font-family='"Liberation Sans", Arial, sans-serif' font-weight="bold" font-size="30.00" fill="#000">+</text>
<text transform="translate(484.22,1136.98)" font-family='"Liberation Sans", Arial, sans-serif' font-weight="bold" font-size="30.00" fill="#000">+</text>
<text transform="translate(540.22,1136.98)" font-family='"Liberation Sans", Arial, sans-serif' font-weight="bold" font-size="30.00" fill="#000">+</text>
<text transform="translate(600.22,1136.98)" font-family='"Liberation Sans", Arial, sans-serif' font-weight="bold" font-size="30.00" fill="#000">+</text>
<text transform="translate(653.72,1136.98)" font-family='"Liberation Sans", Arial, sans-serif' font-weight="bold" font-size="30.00" fill="#000">+</text>
<text transform="translate(254.12,1187.98) scale(1.1800,1)" font-family='"Liberation Sans", Arial, sans-serif' font-weight="bold" font-size="30.00" fill="#000">-</text>
<text transform="translate(311.12,1187.98) scale(1.1800,1)" font-family='"Liberation Sans", Arial, sans-serif' font-weight="bold" font-size="30.00" fill="#000">-</text>
<text transform="translate(365.22,1187.98)" font-family='"Liberation Sans", Arial, sans-serif' font-weight="bold" font-size="30.00" fill="#000">+</text>
<text transform="translate(423.12,1187.98) scale(1.1800,1)" font-family='"Liberation Sans", Arial, sans-serif' font-weight="bold" font-size="30.00" fill="#000">-</text>
<text transform="translate(487.12,1187.98) scale(1.1800,1)" font-family='"Liberation Sans", Arial, sans-serif' font-weight="bold" font-size="30.00" fill="#000">-</text>
<text transform="translate(543.12,1187.98) scale(1.1800,1)" font-family='"Liberation Sans", Arial, sans-serif' font-weight="bold" font-size="30.00" fill="#000">-</text>
<text transform="translate(600.22,1187.98)" font-family='"Liberation Sans", Arial, sans-serif' font-weight="bold" font-size="30.00" fill="#000">+</text>
<text transform="translate(653.72,1187.98)" font-family='"Liberation Sans", Arial, sans-serif' font-weight="bold" font-size="30.00" fill="#000">+</text>
<text transform="translate(254.12,1233.98) scale(1.1800,1)" font-family='"Liberation Sans", Arial, sans-serif' font-weight="bold" font-size="30.00" fill="#000">-</text>
<text transform="translate(311.12,1233.98) scale(1.1800,1)" font-family='"Liberation Sans", Arial, sans-serif' font-weight="bold" font-size="30.00" fill="#000">-</text>
<text transform="translate(368.12,1233.98) scale(1.1800,1)" font-family='"Liberation Sans", Arial, sans-serif' font-weight="bold" font-size="30.00" fill="#000">-</text>
<text transform="translate(420.22,1233.98)" font-family='"Liberation Sans", Arial, sans-serif' font-weight="bold" font-size="30.00" fill="#000">+</text>
<text transform="translate(487.12,1233.98) scale(1.1800,1)" font-family='"Liberation Sans", Arial, sans-serif' font-weight="bold" font-size="30.00" fill="#000">-</text>
<text transform="translate(540.22,1233.98)" font-family='"Liberation Sans", Arial, sans-serif' font-weight="bold" font-size="30.00" fill="#000">+</text>
<text transform="translate(603.12,1233.98) scale(1.1800,1)" font-family='"Liberation Sans", Arial, sans-serif' font-weight="bold" font-size="30.00" fill="#000">-</text>
<text transform="translate(653.72,1233.98)" font-family='"Liberation Sans", Arial, sans-serif' font-weight="bold" font-size="30.00" fill="#000">+</text>
<text transform="translate(254.12,1284.48) scale(1.1800,1)" font-family='"Liberation Sans", Arial, sans-serif' font-weight="bold" font-size="30.00" fill="#000">-</text>
<text transform="translate(311.12,1284.48) scale(1.1800,1)" font-family='"Liberation Sans", Arial, sans-serif' font-weight="bold" font-size="30.00" fill="#000">-</text>
<text transform="translate(368.12,1284.48) scale(1.1800,1)" font-family='"Liberation Sans", Arial, sans-serif' font-weight="bold" font-size="30.00" fill="#000">-</text>
<text transform="translate(423.12,1284.48) scale(1.1800,1)" font-family='"Liberation Sans", Arial, sans-serif' font-weight="bold" font-size="30.00" fill="#000">-</text>
<text transform="translate(484.22,1284.48)" font-family='"Liberation Sans", Arial, sans-serif' font-weight="bold" font-size="30.00" fill="#000">+</text>
<text transform="translate(540.22,1284.48)" font-family='"Liberation Sans", Arial, sans-serif' font-weight="bold" font-size="30.00" fill="#000">+</text>
<text transform="translate(600.22,1284.48)" font-family='"Liberation Sans", Arial, sans-serif' font-weight="bold" font-size="30.00" fill="#000">+</text>
<text transform="translate(656.62,1284.48) scale(1.1800,1)" font-family='"Liberation Sans", Arial, sans-serif' font-weight="bold" font-size="30.00" fill="#000">-</text>
<text transform="translate(996.72,727.70) scale(0.9320,1)" font-family='"Liberation Sans", Arial, sans-serif' font-weight="bold" font-size="35.00" fill="#000">E</text>
<defs>
<filter id="bl2" x="-20%" y="-80%" width="140%" height="260%"><feGaussianBlur stdDeviation="2.4"/></filter>
<filter id="bl3" x="-20%" y="-80%" width="140%" height="260%"><feGaussianBlur stdDeviation="3"/></filter>
<filter id="bl1" x="-20%" y="-80%" width="140%" height="260%"><feGaussianBlur stdDeviation="1.8"/></filter>
</defs>
<rect x="1190.5" y="878" width="644.5" height="86.5" fill="#EAEAEE"/>
<rect x="1190.5" y="975.5" width="644.5" height="84" fill="#E5E5E9"/>
<defs><linearGradient id="pg0" x1="0" x2="1" y1="0" y2="0"><stop offset="0" stop-color="#0a0a0a" stop-opacity="0.5"/><stop offset="0.45" stop-color="#0a0a0a" stop-opacity="0.53"/><stop offset="1" stop-color="#0a0a0a" stop-opacity="0.55"/></linearGradient></defs>
<path d="M1201,919 C1201,914.8 1207,914.8 1213,914.8 L1229.0,915.175 L1245,914.2 C1253,914.2 1257,915.16 1257,919 C1257,922.84 1253,923.8 1245,923.8 L1229.0,923.05 L1213,923.2 C1207,923.2 1201,923.2 1201,919 Z" fill="url(#pg0)" filter="url(#bl2)"/>
<defs><linearGradient id="pg1" x1="0" x2="1" y1="0" y2="0"><stop offset="0" stop-color="#0a0a0a" stop-opacity="0.97"/><stop offset="0.45" stop-color="#0a0a0a" stop-opacity="0.98"/><stop offset="1" stop-color="#0a0a0a" stop-opacity="1.0"/></linearGradient></defs>
<path d="M1280,924 C1280,917 1286,917 1292,917 L1310.5,916.9875 L1329,914.5 C1337,914.5 1341,916.4 1341,924 C1341,931.6 1337,933.5 1329,933.5 L1310.5,931.425 L1292,931 C1286,931 1280,931 1280,924 Z" fill="url(#pg1)" filter="url(#bl2)"/>
<defs><linearGradient id="pg2" x1="0" x2="1" y1="0" y2="0"><stop offset="0" stop-color="#0a0a0a" stop-opacity="0.92"/><stop offset="0.45" stop-color="#0a0a0a" stop-opacity="0.96"/><stop offset="1" stop-color="#0a0a0a" stop-opacity="1.0"/></linearGradient></defs>
<path d="M1360,923.5 C1360,917.0 1366,917.0 1372,917.0 L1390.5,916.9125 L1409,914.5 C1417,914.5 1421,916.3 1421,923.5 C1421,930.7 1417,932.5 1409,932.5 L1390.5,930.475 L1372,930.0 C1366,930.0 1360,930.0 1360,923.5 Z" fill="url(#pg2)" filter="url(#bl2)"/>
<defs><linearGradient id="pg3" x1="0" x2="1" y1="0" y2="0"><stop offset="0" stop-color="#0a0a0a" stop-opacity="0.6"/><stop offset="0.45" stop-color="#0a0a0a" stop-opacity="0.72"/><stop offset="1" stop-color="#0a0a0a" stop-opacity="0.85"/></linearGradient></defs>
<path d="M1442,923 C1442,918.2 1448,918.2 1454,918.2 L1470.0,918.1975 L1486,916.5 C1494,916.5 1498,917.8 1498,923 C1498,928.2 1494,929.5 1486,929.5 L1470.0,928.085 L1454,927.8 C1448,927.8 1442,927.8 1442,923 Z" fill="url(#pg3)" filter="url(#bl2)"/>
<defs><linearGradient id="pg4" x1="0" x2="1" y1="0" y2="0"><stop offset="0" stop-color="#0a0a0a" stop-opacity="0.65"/><stop offset="0.45" stop-color="#0a0a0a" stop-opacity="0.80"/><stop offset="1" stop-color="#0a0a0a" stop-opacity="0.95"/></linearGradient></defs>
<path d="M1520,923.5 C1520,918.0 1526,918.0 1532,918.0 L1549.0,917.55 L1566,915.0 C1574,915.0 1578,916.7 1578,923.5 C1578,930.3 1574,932.0 1566,932.0 L1549.0,929.8 L1532,929.0 C1526,929.0 1520,929.0 1520,923.5 Z" fill="url(#pg4)" filter="url(#bl2)"/>
<defs><linearGradient id="pg5" x1="0" x2="1" y1="0" y2="0"><stop offset="0" stop-color="#0a0a0a" stop-opacity="0.65"/><stop offset="0.45" stop-color="#0a0a0a" stop-opacity="0.81"/><stop offset="1" stop-color="#0a0a0a" stop-opacity="0.97"/></linearGradient></defs>
<path d="M1600,923.5 C1600,918.0 1606,918.0 1612,918.0 L1630.0,917.3375 L1648,914.5 C1656,914.5 1660,916.3 1660,923.5 C1660,930.7 1656,932.5 1648,932.5 L1630.0,930.025 L1612,929.0 C1606,929.0 1600,929.0 1600,923.5 Z" fill="url(#pg5)" filter="url(#bl2)"/>
<defs><linearGradient id="pg6" x1="0" x2="1" y1="0" y2="0"><stop offset="0" stop-color="#0a0a0a" stop-opacity="0.8"/><stop offset="0.45" stop-color="#0a0a0a" stop-opacity="0.89"/><stop offset="1" stop-color="#0a0a0a" stop-opacity="0.97"/></linearGradient></defs>
<path d="M1682,923.5 C1682,917.0 1688,917.0 1694,917.0 L1711.0,917.125 L1728,915.0 C1736,915.0 1740,916.7 1740,923.5 C1740,930.3 1736,932.0 1728,932.0 L1711.0,930.25 L1694,930.0 C1688,930.0 1682,930.0 1682,923.5 Z" fill="url(#pg6)" filter="url(#bl2)"/>
<defs><linearGradient id="pg7" x1="0" x2="1" y1="0" y2="0"><stop offset="0" stop-color="#0a0a0a" stop-opacity="0.9"/><stop offset="0.45" stop-color="#0a0a0a" stop-opacity="0.94"/><stop offset="1" stop-color="#0a0a0a" stop-opacity="0.97"/></linearGradient></defs>
<path d="M1762,924 C1762,916.5 1768,916.5 1774,916.5 L1794.0,917.2 L1814,915.5 C1822,915.5 1826,917.2 1826,924 C1826,930.8 1822,932.5 1814,932.5 L1794.0,931.2 L1774,931.5 C1768,931.5 1762,931.5 1762,924 Z" fill="url(#pg7)" filter="url(#bl2)"/>
<path d="M1201,1020.5 C1201,1014 1208,1013 1216,1012 Q1238.75,1006 1261.5,1012 C1269.5,1013 1276.5,1014 1276.5,1020.5 C1276.5,1027.5 1269.5,1028 1261.5,1028 L1216,1028 C1208,1028 1201,1027.5 1201,1020.5 Z" fill="#070707" filter="url(#bl1)"/>
<path d="M1283.5,1020.5 C1283.5,1014 1290.5,1013 1298.5,1012 Q1316.75,1006 1335,1012 C1343,1013 1350,1014 1350,1020.5 C1350,1027.5 1343,1028 1335,1028 L1298.5,1028 C1290.5,1028 1283.5,1027.5 1283.5,1020.5 Z" fill="#070707" filter="url(#bl1)"/>
<path d="M1358.5,1020.5 C1358.5,1014 1365.5,1013 1373.5,1012 Q1394.25,1006 1415,1012 C1423,1013 1430,1014 1430,1020.5 C1430,1027.5 1423,1028 1415,1028 L1373.5,1028 C1365.5,1028 1358.5,1027.5 1358.5,1020.5 Z" fill="#070707" filter="url(#bl1)"/>
<path d="M1436,1020.5 C1436,1014 1443,1013 1451,1012 Q1470.0,1006 1489,1012 C1497,1013 1504,1014 1504,1020.5 C1504,1027.5 1497,1028 1489,1028 L1451,1028 C1443,1028 1436,1027.5 1436,1020.5 Z" fill="#070707" filter="url(#bl1)"/>
<path d="M1509,1020.5 C1509,1014 1516,1013 1524,1012 Q1546.75,1006 1569.5,1012 C1577.5,1013 1584.5,1014 1584.5,1020.5 C1584.5,1027.5 1577.5,1028 1569.5,1028 L1524,1028 C1516,1028 1509,1027.5 1509,1020.5 Z" fill="#070707" filter="url(#bl1)"/>
<path d="M1591.5,1020.5 C1591.5,1014 1598.5,1013 1606.5,1012 Q1628.0,1006 1649.5,1012 C1657.5,1013 1664.5,1014 1664.5,1020.5 C1664.5,1027.5 1657.5,1028 1649.5,1028 L1606.5,1028 C1598.5,1028 1591.5,1027.5 1591.5,1020.5 Z" fill="#070707" filter="url(#bl1)"/>
<path d="M1669,1020.5 C1669,1014 1676,1013 1684,1012 Q1705.0,1006 1726,1012 C1734,1013 1741,1014 1741,1020.5 C1741,1027.5 1734,1028 1726,1028 L1684,1028 C1676,1028 1669,1027.5 1669,1020.5 Z" fill="#070707" filter="url(#bl1)"/>
<path d="M1750,1020.5 C1750,1014 1757,1013 1765,1012 Q1787.25,1006 1809.5,1012 C1817.5,1013 1824.5,1014 1824.5,1020.5 C1824.5,1027.5 1817.5,1028 1809.5,1028 L1765,1028 C1757,1028 1750,1027.5 1750,1020.5 Z" fill="#070707" filter="url(#bl1)"/>
<rect x="1190.5" y="878" width="644.5" height="86.5" fill="none" stroke="#111" stroke-width="3.5"/>
<rect x="1190.5" y="975.5" width="644.5" height="84" fill="none" stroke="#111" stroke-width="3.5"/>
<text transform="translate(1221.51,859.90)" font-family='"Liberation Sans", Arial, sans-serif' font-weight="bold" font-size="30.40" fill="#000">1</text>
<text transform="translate(1308.13,859.90)" font-family='"Liberation Sans", Arial, sans-serif' font-weight="bold" font-size="30.40" fill="#000">2</text>
<text transform="translate(1391.75,859.90)" font-family='"Liberation Sans", Arial, sans-serif' font-weight="bold" font-size="30.40" fill="#000">3</text>
<text transform="translate(1469.40,859.90)" font-family='"Liberation Sans", Arial, sans-serif' font-weight="bold" font-size="30.40" fill="#000">4</text>
<text transform="translate(1548.50,859.90)" font-family='"Liberation Sans", Arial, sans-serif' font-weight="bold" font-size="30.40" fill="#000">5</text>
<text transform="translate(1625.04,859.90)" font-family='"Liberation Sans", Arial, sans-serif' font-weight="bold" font-size="30.40" fill="#000">6</text>
<text transform="translate(1702.06,859.90)" font-family='"Liberation Sans", Arial, sans-serif' font-weight="bold" font-size="30.40" fill="#000">7</text>
<text transform="translate(1783.53,859.90)" font-family='"Liberation Sans", Arial, sans-serif' font-weight="bold" font-size="30.40" fill="#000">8</text>
<text transform="translate(1839.88,862.00) scale(0.8866,1)" font-family='"Liberation Sans", Arial, sans-serif' font-weight="bold" font-size="30.70" fill="#000">KDa</text>
<text transform="translate(1134.13,935.00) scale(0.9154,1)" font-family='"Liberation Sans", Arial, sans-serif' font-weight="bold" font-size="31.00" fill="#000">p53</text>
<text transform="translate(1078.86,1021.25) scale(0.9126,1)" font-family='"Liberation Sans", Arial, sans-serif' font-weight="bold" font-size="30.50" fill="#000">GAPDH</text>
<text transform="translate(1845.89,931.25) scale(0.9817,1)" font-family='"Liberation Sans", Arial, sans-serif' font-weight="bold" font-size="28.50" fill="#000">53</text>
<text transform="translate(1843.36,1026.00) scale(0.9733,1)" font-family='"Liberation Sans", Arial, sans-serif' font-weight="bold" font-size="28.50" fill="#000">37</text>
<text transform="translate(1038.16,1109.40) scale(0.9090,1)" font-family='"Liberation Sans", Arial, sans-serif' font-weight="bold" font-size="30.20" fill="#000">PCN-100μM</text>
<text transform="translate(1053.16,1155.50) scale(0.9131,1)" font-family='"Liberation Sans", Arial, sans-serif' font-weight="bold" font-size="30.20" fill="#000">NAC-50μM</text>
<text transform="translate(996.92,1208.00) scale(0.9082,1)" font-family='"Liberation Sans", Arial, sans-serif' font-weight="bold" font-size="30.20" fill="#000">L-NAME-200μM</text>
<text transform="translate(1074.58,1253.00) scale(0.9093,1)" font-family='"Liberation Sans", Arial, sans-serif' font-weight="bold" font-size="30.20" fill="#000">JQ1-1μM</text>
<text transform="translate(1238.37,1109.48) scale(1.1800,1)" font-family='"Liberation Sans", Arial, sans-serif' font-weight="bold" font-size="30.00" fill="#000">-</text>
<text transform="translate(1310.47,1109.48)" font-family='"Liberation Sans", Arial, sans-serif' font-weight="bold" font-size="30.00" fill="#000">+</text>
<text transform="translate(1401.22,1109.48)" font-family='"Liberation Sans", Arial, sans-serif' font-weight="bold" font-size="30.00" fill="#000">+</text>
<text transform="translate(1476.22,1109.48)" font-family='"Liberation Sans", Arial, sans-serif' font-weight="bold" font-size="30.00" fill="#000">+</text>
<text transform="translate(1557.97,1109.48)" font-family='"Liberation Sans", Arial, sans-serif' font-weight="bold" font-size="30.00" fill="#000">+</text>
<text transform="translate(1638.47,1109.48)" font-family='"Liberation Sans", Arial, sans-serif' font-weight="bold" font-size="30.00" fill="#000">+</text>
<text transform="translate(1716.72,1109.48)" font-family='"Liberation Sans", Arial, sans-serif' font-weight="bold" font-size="30.00" fill="#000">+</text>
<text transform="translate(1791.72,1109.48)" font-family='"Liberation Sans", Arial, sans-serif' font-weight="bold" font-size="30.00" fill="#000">+</text>
<text transform="translate(1238.37,1155.98) scale(1.1800,1)" font-family='"Liberation Sans", Arial, sans-serif' font-weight="bold" font-size="30.00" fill="#000">-</text>
<text transform="translate(1313.37,1155.98) scale(1.1800,1)" font-family='"Liberation Sans", Arial, sans-serif' font-weight="bold" font-size="30.00" fill="#000">-</text>
<text transform="translate(1401.22,1155.98)" font-family='"Liberation Sans", Arial, sans-serif' font-weight="bold" font-size="30.00" fill="#000">+</text>
<text transform="translate(1479.12,1155.98) scale(1.1800,1)" font-family='"Liberation Sans", Arial, sans-serif' font-weight="bold" font-size="30.00" fill="#000">-</text>
<text transform="translate(1560.87,1155.98) scale(1.1800,1)" font-family='"Liberation Sans", Arial, sans-serif' font-weight="bold" font-size="30.00" fill="#000">-</text>
<text transform="translate(1638.47,1155.98)" font-family='"Liberation Sans", Arial, sans-serif' font-weight="bold" font-size="30.00" fill="#000">+</text>
<text transform="translate(1716.72,1155.98)" font-family='"Liberation Sans", Arial, sans-serif' font-weight="bold" font-size="30.00" fill="#000">+</text>
<text transform="translate(1794.62,1155.98) scale(1.1800,1)" font-family='"Liberation Sans", Arial, sans-serif' font-weight="bold" font-size="30.00" fill="#000">-</text>
<text transform="translate(1238.37,1207.98) scale(1.1800,1)" font-family='"Liberation Sans", Arial, sans-serif' font-weight="bold" font-size="30.00" fill="#000">-</text>
<text transform="translate(1313.37,1207.98) scale(1.1800,1)" font-family='"Liberation Sans", Arial, sans-serif' font-weight="bold" font-size="30.00" fill="#000">-</text>
<text transform="translate(1404.12,1207.98) scale(1.1800,1)" font-family='"Liberation Sans", Arial, sans-serif' font-weight="bold" font-size="30.00" fill="#000">-</text>
<text transform="translate(1476.22,1207.98)" font-family='"Liberation Sans", Arial, sans-serif' font-weight="bold" font-size="30.00" fill="#000">+</text>
<text transform="translate(1560.87,1207.98) scale(1.1800,1)" font-family='"Liberation Sans", Arial, sans-serif' font-weight="bold" font-size="30.00" fill="#000">-</text>
<text transform="translate(1638.47,1207.98)" font-family='"Liberation Sans", Arial, sans-serif' font-weight="bold" font-size="30.00" fill="#000">+</text>
<text transform="translate(1719.62,1207.98) scale(1.1800,1)" font-family='"Liberation Sans", Arial, sans-serif' font-weight="bold" font-size="30.00" fill="#000">-</text>
<text transform="translate(1791.72,1207.98)" font-family='"Liberation Sans", Arial, sans-serif' font-weight="bold" font-size="30.00" fill="#000">+</text>
<text transform="translate(1238.37,1254.98) scale(1.1800,1)" font-family='"Liberation Sans", Arial, sans-serif' font-weight="bold" font-size="30.00" fill="#000">-</text>
<text transform="translate(1313.37,1254.98) scale(1.1800,1)" font-family='"Liberation Sans", Arial, sans-serif' font-weight="bold" font-size="30.00" fill="#000">-</text>
<text transform="translate(1404.12,1254.98) scale(1.1800,1)" font-family='"Liberation Sans", Arial, sans-serif' font-weight="bold" font-size="30.00" fill="#000">-</text>
<text transform="translate(1479.12,1254.98) scale(1.1800,1)" font-family='"Liberation Sans", Arial, sans-serif' font-weight="bold" font-size="30.00" fill="#000">-</text>
<text transform="translate(1557.97,1254.98)" font-family='"Liberation Sans", Arial, sans-serif' font-weight="bold" font-size="30.00" fill="#000">+</text>
<text transform="translate(1641.37,1254.98) scale(1.1800,1)" font-family='"Liberation Sans", Arial, sans-serif' font-weight="bold" font-size="30.00" fill="#000">-</text>
<text transform="translate(1716.72,1254.98)" font-family='"Liberation Sans", Arial, sans-serif' font-weight="bold" font-size="30.00" fill="#000">+</text>
<text transform="translate(1791.72,1254.98)" font-family='"Liberation Sans", Arial, sans-serif' font-weight="bold" font-size="30.00" fill="#000">+</text>
<text transform="translate(35.59,1406.90) scale(0.9570,1)" font-family='"Liberation Sans", Arial, sans-serif' font-weight="bold" font-size="34.50" fill="#000">F</text>
<line x1="222.00" y1="1548.75" x2="222.00" y2="1901.00" stroke="#000" stroke-width="5" stroke-linecap="butt"/>
<line x1="212.50" y1="1898.75" x2="522.00" y2="1898.75" stroke="#000" stroke-width="5" stroke-linecap="butt"/>
<line x1="212.50" y1="1829.22" x2="222.00" y2="1829.22" stroke="#000" stroke-width="5" stroke-linecap="butt"/>
<line x1="212.50" y1="1759.70" x2="222.00" y2="1759.70" stroke="#000" stroke-width="5" stroke-linecap="butt"/>
<line x1="212.50" y1="1690.17" x2="222.00" y2="1690.17" stroke="#000" stroke-width="5" stroke-linecap="butt"/>
<line x1="212.50" y1="1620.65" x2="222.00" y2="1620.65" stroke="#000" stroke-width="5" stroke-linecap="butt"/>
<line x1="212.50" y1="1551.12" x2="222.00" y2="1551.12" stroke="#000" stroke-width="5" stroke-linecap="butt"/>
<line x1="265.00" y1="1898.75" x2="265.00" y2="1911.00" stroke="#000" stroke-width="4.5" stroke-linecap="butt"/>
<line x1="318.00" y1="1898.75" x2="318.00" y2="1911.00" stroke="#000" stroke-width="4.5" stroke-linecap="butt"/>
<line x1="371.25" y1="1898.75" x2="371.25" y2="1911.00" stroke="#000" stroke-width="4.5" stroke-linecap="butt"/>
<line x1="424.50" y1="1898.75" x2="424.50" y2="1911.00" stroke="#000" stroke-width="4.5" stroke-linecap="butt"/>
<line x1="477.50" y1="1898.75" x2="477.50" y2="1911.00" stroke="#000" stroke-width="4.5" stroke-linecap="butt"/>
<text transform="translate(192.04,1908.39) scale(0.9748,1)" font-family='"Liberation Sans", Arial, sans-serif' font-weight="bold" font-size="28.00" fill="#000">0</text>
<text transform="translate(176.86,1838.86) scale(0.9748,1)" font-family='"Liberation Sans", Arial, sans-serif' font-weight="bold" font-size="28.00" fill="#000">50</text>
<text transform="translate(161.68,1769.34) scale(0.9748,1)" font-family='"Liberation Sans", Arial, sans-serif' font-weight="bold" font-size="28.00" fill="#000">100</text>
<text transform="translate(161.68,1699.81) scale(0.9748,1)" font-family='"Liberation Sans", Arial, sans-serif' font-weight="bold" font-size="28.00" fill="#000">150</text>
<text transform="translate(161.68,1630.29) scale(0.9748,1)" font-family='"Liberation Sans", Arial, sans-serif' font-weight="bold" font-size="28.00" fill="#000">200</text>
<text transform="translate(161.68,1560.76) scale(0.9748,1)" font-family='"Liberation Sans", Arial, sans-serif' font-weight="bold" font-size="28.00" fill="#000">250</text>
<text transform="translate(122.20,1932.14) rotate(-90) scale(0.9616,1)" font-family='"Liberation Sans", Arial, sans-serif' font-weight="bold" font-size="29.00" fill="#000">Concentration of ONOO<tspan font-size="17.40" dy="-13.05">-</tspan><tspan dy="13.05">(pg/ml)</tspan></text>
<path d="M250.25,1896.35 V1878.50 H280.25 V1896.35" fill="none" stroke="#111111" stroke-width="4.5" stroke-linejoin="miter" stroke-linecap="butt"/>
<path d="M303.25,1896.35 V1880.25 H332.75 V1896.35" fill="none" stroke="#111111" stroke-width="4.5" stroke-linejoin="miter" stroke-linecap="butt"/>
<line x1="318.00" y1="1880.00" x2="318.00" y2="1875.50" stroke="#111111" stroke-width="3.5" stroke-linecap="butt"/>
<line x1="310.25" y1="1875.50" x2="325.75" y2="1875.50" stroke="#111111" stroke-width="4" stroke-linecap="round"/>
<path d="M356.75,1896.35 V1869.00 H386.50 V1896.35" fill="none" stroke="#111111" stroke-width="4.5" stroke-linejoin="miter" stroke-linecap="butt"/>
<line x1="371.62" y1="1868.75" x2="371.62" y2="1858.00" stroke="#111111" stroke-width="3.5" stroke-linecap="butt"/>
<line x1="363.88" y1="1858.00" x2="379.38" y2="1858.00" stroke="#111111" stroke-width="4" stroke-linecap="round"/>
<line x1="371.62" y1="1868.75" x2="371.62" y2="1872.50" stroke="#111111" stroke-width="3.5" stroke-linecap="butt"/>
<line x1="363.88" y1="1872.50" x2="379.38" y2="1872.50" stroke="#111111" stroke-width="4" stroke-linecap="round"/>
<path d="M410.25,1896.35 V1810.25 H439.75 V1896.35" fill="none" stroke="#111111" stroke-width="4.5" stroke-linejoin="miter" stroke-linecap="butt"/>
<line x1="425.00" y1="1810.00" x2="425.00" y2="1795.50" stroke="#111111" stroke-width="3.5" stroke-linecap="butt"/>
<line x1="417.25" y1="1795.50" x2="432.75" y2="1795.50" stroke="#111111" stroke-width="4" stroke-linecap="round"/>
<line x1="425.00" y1="1810.00" x2="425.00" y2="1818.00" stroke="#111111" stroke-width="3.5" stroke-linecap="butt"/>
<line x1="417.25" y1="1818.00" x2="432.75" y2="1818.00" stroke="#111111" stroke-width="4" stroke-linecap="round"/>
<path d="M463.25,1896.35 V1653.50 H492.75 V1896.35" fill="none" stroke="#111111" stroke-width="4.5" stroke-linejoin="miter" stroke-linecap="butt"/>
<line x1="478.00" y1="1653.25" x2="478.00" y2="1632.00" stroke="#111111" stroke-width="3.5" stroke-linecap="butt"/>
<line x1="470.25" y1="1632.00" x2="485.75" y2="1632.00" stroke="#111111" stroke-width="4" stroke-linecap="round"/>
<line x1="478.00" y1="1653.25" x2="478.00" y2="1666.25" stroke="#111111" stroke-width="3.5" stroke-linecap="butt"/>
<line x1="470.25" y1="1666.25" x2="485.75" y2="1666.25" stroke="#111111" stroke-width="4" stroke-linecap="round"/>
<text transform="translate(417.61,1790.95)" font-family='"Liberation Sans", Arial, sans-serif' font-weight="bold" font-size="25.00" fill="#000">*</text>
<text transform="translate(463.78,1630.95)" font-family='"Liberation Sans", Arial, sans-serif' font-weight="bold" font-size="25.00" fill="#000">***</text>
<text transform="translate(228.61,1972.69) rotate(-45) scale(0.9700,1)" font-family='"Liberation Sans", Arial, sans-serif' font-weight="bold" font-size="29.70" fill="#000">PBS</text>
<text transform="translate(212.09,2042.21) rotate(-45) scale(0.9700,1)" font-family='"Liberation Sans", Arial, sans-serif' font-weight="bold" font-size="29.70" fill="#000">LPS-1ug/ml</text>
<text transform="translate(146.81,2160.74) rotate(-45) scale(0.9700,1)" font-family='"Liberation Sans", Arial, sans-serif' font-weight="bold" font-size="29.70" fill="#000">LPS-1ug/ml+H<tspan font-size="20.79" dy="8.91">2</tspan><tspan font-size="32.08" dy="-8.91">O</tspan><tspan font-size="20.79" dy="8.91">2</tspan><tspan dy="-8.91">-50μM</tspan></text>
<text transform="translate(329.80,2031.00) rotate(-45) scale(0.9700,1)" font-family='"Liberation Sans", Arial, sans-serif' font-weight="bold" font-size="29.70" fill="#000">PCN 50μM</text>
<text transform="translate(377.13,2036.67) rotate(-45) scale(0.9700,1)" font-family='"Liberation Sans", Arial, sans-serif' font-weight="bold" font-size="29.70" fill="#000">PCN100μM</text>
<text transform="translate(642.65,1407.20) scale(0.9676,1)" font-family='"Liberation Sans", Arial, sans-serif' font-weight="bold" font-size="34.00" fill="#000">G</text>
<line x1="717.50" y1="1548.75" x2="717.50" y2="1900.00" stroke="#000" stroke-width="5" stroke-linecap="butt"/>
<line x1="709.50" y1="1897.50" x2="1065.00" y2="1897.50" stroke="#000" stroke-width="5" stroke-linecap="butt"/>
<line x1="709.50" y1="1811.10" x2="717.50" y2="1811.10" stroke="#000" stroke-width="5" stroke-linecap="butt"/>
<line x1="709.50" y1="1724.70" x2="717.50" y2="1724.70" stroke="#000" stroke-width="5" stroke-linecap="butt"/>
<line x1="709.50" y1="1638.30" x2="717.50" y2="1638.30" stroke="#000" stroke-width="5" stroke-linecap="butt"/>
<line x1="709.50" y1="1551.90" x2="717.50" y2="1551.90" stroke="#000" stroke-width="5" stroke-linecap="butt"/>
<line x1="761.25" y1="1897.50" x2="761.25" y2="1907.50" stroke="#000" stroke-width="4.5" stroke-linecap="butt"/>
<line x1="813.25" y1="1897.50" x2="813.25" y2="1907.50" stroke="#000" stroke-width="4.5" stroke-linecap="butt"/>
<line x1="865.75" y1="1897.50" x2="865.75" y2="1907.50" stroke="#000" stroke-width="4.5" stroke-linecap="butt"/>
<line x1="917.50" y1="1897.50" x2="917.50" y2="1907.50" stroke="#000" stroke-width="4.5" stroke-linecap="butt"/>
<line x1="970.00" y1="1897.50" x2="970.00" y2="1907.50" stroke="#000" stroke-width="4.5" stroke-linecap="butt"/>
<line x1="1021.25" y1="1897.50" x2="1021.25" y2="1907.50" stroke="#000" stroke-width="4.5" stroke-linecap="butt"/>
<text transform="translate(688.68,1907.14)" font-family='"Liberation Sans", Arial, sans-serif' font-weight="bold" font-size="28.00" fill="#000">0</text>
<text transform="translate(688.65,1820.88)" font-family='"Liberation Sans", Arial, sans-serif' font-weight="bold" font-size="28.00" fill="#000">2</text>
<text transform="translate(687.68,1734.33)" font-family='"Liberation Sans", Arial, sans-serif' font-weight="bold" font-size="28.00" fill="#000">4</text>
<text transform="translate(688.54,1647.94)" font-family='"Liberation Sans", Arial, sans-serif' font-weight="bold" font-size="28.00" fill="#000">6</text>
<text transform="translate(688.39,1561.54)" font-family='"Liberation Sans", Arial, sans-serif' font-weight="bold" font-size="28.00" fill="#000">8</text>
<text transform="translate(605.00,1860.88) rotate(-90) scale(0.9365,1)" font-family='"Liberation Sans", Arial, sans-serif' font-weight="bold" font-size="30.00" fill="#000">Relative induction of ONOO<tspan font-size="18.00" dy="-13.50">-</tspan></text>
<text transform="translate(641.70,1905.84) rotate(-90) scale(0.9291,1)" font-family='"Liberation Sans", Arial, sans-serif' font-weight="bold" font-size="30.00" fill="#000">normalized to PBS treatment(fold)</text>
<path d="M747.50,1895.10 V1858.25 H775.50 V1895.10" fill="none" stroke="#111111" stroke-width="5" stroke-linejoin="miter" stroke-linecap="butt"/>
<path d="M799.25,1895.10 V1779.50 H828.00 V1895.10" fill="none" stroke="#A9631D" stroke-width="5" stroke-linejoin="miter" stroke-linecap="butt"/>
<line x1="813.62" y1="1779.00" x2="813.62" y2="1768.25" stroke="#A9631D" stroke-width="3.5" stroke-linecap="butt"/>
<line x1="805.38" y1="1768.25" x2="821.88" y2="1768.25" stroke="#A9631D" stroke-width="4" stroke-linecap="round"/>
<line x1="813.62" y1="1779.00" x2="813.62" y2="1784.25" stroke="#A9631D" stroke-width="3.5" stroke-linecap="butt"/>
<line x1="805.38" y1="1784.25" x2="821.88" y2="1784.25" stroke="#A9631D" stroke-width="4" stroke-linecap="round"/>
<path d="M851.25,1895.10 V1863.75 H880.00 V1895.10" fill="none" stroke="#3A6BB8" stroke-width="5" stroke-linejoin="miter" stroke-linecap="butt"/>
<line x1="865.62" y1="1863.25" x2="865.62" y2="1852.50" stroke="#3A6BB8" stroke-width="3.5" stroke-linecap="butt"/>
<line x1="857.38" y1="1852.50" x2="873.88" y2="1852.50" stroke="#3A6BB8" stroke-width="4" stroke-linecap="round"/>
<line x1="865.62" y1="1863.25" x2="865.62" y2="1868.75" stroke="#3A6BB8" stroke-width="3.5" stroke-linecap="butt"/>
<line x1="857.38" y1="1868.75" x2="873.88" y2="1868.75" stroke="#3A6BB8" stroke-width="4" stroke-linecap="round"/>
<path d="M903.25,1895.10 V1631.75 H932.00 V1895.10" fill="none" stroke="#F9A136" stroke-width="5" stroke-linejoin="miter" stroke-linecap="butt"/>
<line x1="917.62" y1="1631.25" x2="917.62" y2="1618.00" stroke="#F9A136" stroke-width="3.5" stroke-linecap="butt"/>
<line x1="909.38" y1="1618.00" x2="925.88" y2="1618.00" stroke="#F9A136" stroke-width="4" stroke-linecap="round"/>
<line x1="917.62" y1="1631.25" x2="917.62" y2="1638.75" stroke="#F9A136" stroke-width="3.5" stroke-linecap="butt"/>
<line x1="909.38" y1="1638.75" x2="925.88" y2="1638.75" stroke="#F9A136" stroke-width="4" stroke-linecap="round"/>
<path d="M955.00,1895.10 V1862.00 H984.25 V1895.10" fill="none" stroke="#A2321A" stroke-width="5" stroke-linejoin="miter" stroke-linecap="butt"/>
<line x1="969.62" y1="1861.50" x2="969.62" y2="1850.50" stroke="#A2321A" stroke-width="3.5" stroke-linecap="butt"/>
<line x1="961.38" y1="1850.50" x2="977.88" y2="1850.50" stroke="#A2321A" stroke-width="4" stroke-linecap="round"/>
<line x1="969.62" y1="1861.50" x2="969.62" y2="1867.00" stroke="#A2321A" stroke-width="3.5" stroke-linecap="butt"/>
<line x1="961.38" y1="1867.00" x2="977.88" y2="1867.00" stroke="#A2321A" stroke-width="4" stroke-linecap="round"/>
<path d="M1007.50,1895.10 V1834.50 H1036.25 V1895.10" fill="none" stroke="#17A05C" stroke-width="5" stroke-linejoin="miter" stroke-linecap="butt"/>
<line x1="1021.88" y1="1834.00" x2="1021.88" y2="1814.25" stroke="#17A05C" stroke-width="3.5" stroke-linecap="butt"/>
<line x1="1013.62" y1="1814.25" x2="1030.12" y2="1814.25" stroke="#17A05C" stroke-width="4" stroke-linecap="round"/>
<line x1="1021.88" y1="1834.00" x2="1021.88" y2="1847.50" stroke="#17A05C" stroke-width="3.5" stroke-linecap="butt"/>
<line x1="1013.62" y1="1847.50" x2="1030.12" y2="1847.50" stroke="#17A05C" stroke-width="4" stroke-linecap="round"/>
<path d="M761.25,1843.75 V1600.5 H911.25 V1610" fill="none" stroke="#000" stroke-width="3.5" stroke-linecap="round" stroke-linejoin="miter"/>
<path d="M920,1610 V1600.5 H972.5 V1811.25" fill="none" stroke="#000" stroke-width="3.5" stroke-linecap="round" stroke-linejoin="miter"/>
<path d="M813,1757.5 V1747.5 H866.25 V1843.75" fill="none" stroke="#000" stroke-width="3.5" stroke-linecap="round" stroke-linejoin="miter"/>
<text transform="translate(823.66,1599.00)" font-family='"Liberation Sans", Arial, sans-serif' font-weight="bold" font-size="25.80" fill="#000">***</text>
<text transform="translate(931.91,1599.00)" font-family='"Liberation Sans", Arial, sans-serif' font-weight="bold" font-size="25.80" fill="#000">***</text>
<text transform="translate(828.03,1746.50)" font-family='"Liberation Sans", Arial, sans-serif' font-weight="bold" font-size="25.80" fill="#000">**</text>
<text transform="translate(724.80,1974.45) rotate(-45) scale(0.9900,1)" font-family='"Liberation Sans", Arial, sans-serif' font-weight="bold" font-size="29.00" fill="#000">PBS</text>
<text transform="translate(717.57,2033.68) rotate(-45) scale(0.9900,1)" font-family='"Liberation Sans", Arial, sans-serif' font-weight="bold" font-size="29.00" fill="#000">PCN-50μM</text>
<text transform="translate(647.09,2156.66) rotate(-45) scale(0.9900,1)" font-family='"Liberation Sans", Arial, sans-serif' font-weight="bold" font-size="29.00" fill="#000">(+)JQ1-1μM+PCN-50μM</text>
<text transform="translate(810.53,2044.97) rotate(-45) scale(0.9900,1)" font-family='"Liberation Sans", Arial, sans-serif' font-weight="bold" font-size="29.00" fill="#000">PCN-100μM</text>
<text transform="translate(740.05,2167.95) rotate(-45) scale(0.9900,1)" font-family='"Liberation Sans", Arial, sans-serif' font-weight="bold" font-size="29.00" fill="#000">(+)JQ1-1μM+PCN-100μM</text>
<text transform="translate(915.98,2043.27) rotate(-45) scale(0.9900,1)" font-family='"Liberation Sans", Arial, sans-serif' font-weight="bold" font-size="29.00" fill="#000">(+)JQ1-1μM</text>
<text transform="translate(1122.14,1406.80) scale(0.9590,1)" font-family='"Liberation Sans", Arial, sans-serif' font-weight="bold" font-size="33.70" fill="#000">H</text>
<line x1="1355.00" y1="1548.75" x2="1355.00" y2="1900.00" stroke="#000" stroke-width="5" stroke-linecap="butt"/>
<line x1="1345.00" y1="1897.50" x2="1875.50" y2="1897.50" stroke="#000" stroke-width="5" stroke-linecap="butt"/>
<line x1="1345.00" y1="1811.05" x2="1355.00" y2="1811.05" stroke="#000" stroke-width="5" stroke-linecap="butt"/>
<line x1="1345.00" y1="1724.60" x2="1355.00" y2="1724.60" stroke="#000" stroke-width="5" stroke-linecap="butt"/>
<line x1="1345.00" y1="1638.15" x2="1355.00" y2="1638.15" stroke="#000" stroke-width="5" stroke-linecap="butt"/>
<line x1="1345.00" y1="1551.70" x2="1355.00" y2="1551.70" stroke="#000" stroke-width="5" stroke-linecap="butt"/>
<line x1="1404.50" y1="1897.50" x2="1404.50" y2="1906.00" stroke="#000" stroke-width="4.5" stroke-linecap="butt"/>
<line x1="1465.00" y1="1897.50" x2="1465.00" y2="1906.00" stroke="#000" stroke-width="4.5" stroke-linecap="butt"/>
<line x1="1525.00" y1="1897.50" x2="1525.00" y2="1906.00" stroke="#000" stroke-width="4.5" stroke-linecap="butt"/>
<line x1="1585.00" y1="1897.50" x2="1585.00" y2="1906.00" stroke="#000" stroke-width="4.5" stroke-linecap="butt"/>
<line x1="1645.00" y1="1897.50" x2="1645.00" y2="1906.00" stroke="#000" stroke-width="4.5" stroke-linecap="butt"/>
<line x1="1705.00" y1="1897.50" x2="1705.00" y2="1906.00" stroke="#000" stroke-width="4.5" stroke-linecap="butt"/>
<line x1="1765.00" y1="1897.50" x2="1765.00" y2="1906.00" stroke="#000" stroke-width="4.5" stroke-linecap="butt"/>
<line x1="1825.00" y1="1897.50" x2="1825.00" y2="1906.00" stroke="#000" stroke-width="4.5" stroke-linecap="butt"/>
<text transform="translate(1326.18,1907.14)" font-family='"Liberation Sans", Arial, sans-serif' font-weight="bold" font-size="28.00" fill="#000">0</text>
<text transform="translate(1325.81,1820.68)" font-family='"Liberation Sans", Arial, sans-serif' font-weight="bold" font-size="28.00" fill="#000">1</text>
<text transform="translate(1326.15,1734.38)" font-family='"Liberation Sans", Arial, sans-serif' font-weight="bold" font-size="28.00" fill="#000">2</text>
<text transform="translate(1326.04,1647.77)" font-family='"Liberation Sans", Arial, sans-serif' font-weight="bold" font-size="28.00" fill="#000">3</text>
<text transform="translate(1325.18,1561.33)" font-family='"Liberation Sans", Arial, sans-serif' font-weight="bold" font-size="28.00" fill="#000">4</text>
<text transform="translate(1253.75,1868.07) rotate(-90) scale(0.9391,1)" font-family='"Liberation Sans", Arial, sans-serif' font-weight="bold" font-size="29.00" fill="#000">Relative induction of ONOO<tspan font-size="17.40" dy="-13.05">-</tspan></text>
<text transform="translate(1291.25,1906.84) rotate(-90) scale(0.9650,1)" font-family='"Liberation Sans", Arial, sans-serif' font-weight="bold" font-size="29.00" fill="#000">normalized to PBS treatment(fold)</text>
<path d="M1388.50,1895.10 V1814.00 H1422.25 V1895.10" fill="none" stroke="#111111" stroke-width="4.5" stroke-linejoin="miter" stroke-linecap="butt"/>
<path d="M1448.00,1895.10 V1611.75 H1482.00 V1895.10" fill="none" stroke="#B8803A" stroke-width="4.5" stroke-linejoin="miter" stroke-linecap="butt"/>
<line x1="1465.00" y1="1611.50" x2="1465.00" y2="1585.50" stroke="#B8803A" stroke-width="3.5" stroke-linecap="butt"/>
<line x1="1455.75" y1="1585.50" x2="1474.25" y2="1585.50" stroke="#B8803A" stroke-width="4" stroke-linecap="round"/>
<line x1="1465.00" y1="1611.50" x2="1465.00" y2="1631.75" stroke="#B8803A" stroke-width="3.5" stroke-linecap="butt"/>
<line x1="1455.75" y1="1631.75" x2="1474.25" y2="1631.75" stroke="#B8803A" stroke-width="4" stroke-linecap="round"/>
<path d="M1508.00,1895.10 V1698.00 H1542.25 V1895.10" fill="none" stroke="#3A6BB8" stroke-width="4.5" stroke-linejoin="miter" stroke-linecap="butt"/>
<line x1="1525.12" y1="1697.75" x2="1525.12" y2="1691.25" stroke="#3A6BB8" stroke-width="3.5" stroke-linecap="butt"/>
<line x1="1515.88" y1="1691.25" x2="1534.38" y2="1691.25" stroke="#3A6BB8" stroke-width="4" stroke-linecap="round"/>
<line x1="1525.12" y1="1697.75" x2="1525.12" y2="1700.00" stroke="#3A6BB8" stroke-width="3.5" stroke-linecap="butt"/>
<line x1="1515.88" y1="1700.00" x2="1534.38" y2="1700.00" stroke="#3A6BB8" stroke-width="4" stroke-linecap="round"/>
<path d="M1568.50,1895.10 V1779.00 H1602.25 V1895.10" fill="none" stroke="#F9A136" stroke-width="4.5" stroke-linejoin="miter" stroke-linecap="butt"/>
<line x1="1585.38" y1="1778.75" x2="1585.38" y2="1757.50" stroke="#F9A136" stroke-width="3.5" stroke-linecap="butt"/>
<line x1="1576.12" y1="1757.50" x2="1594.62" y2="1757.50" stroke="#F9A136" stroke-width="4" stroke-linecap="round"/>
<line x1="1585.38" y1="1778.75" x2="1585.38" y2="1794.50" stroke="#F9A136" stroke-width="3.5" stroke-linecap="butt"/>
<line x1="1576.12" y1="1794.50" x2="1594.62" y2="1794.50" stroke="#F9A136" stroke-width="4" stroke-linecap="round"/>
<path d="M1628.00,1895.10 V1795.50 H1662.75 V1895.10" fill="none" stroke="#A2321A" stroke-width="4.5" stroke-linejoin="miter" stroke-linecap="butt"/>
<line x1="1645.38" y1="1795.25" x2="1645.38" y2="1778.25" stroke="#A2321A" stroke-width="3.5" stroke-linecap="butt"/>
<line x1="1636.12" y1="1778.25" x2="1654.62" y2="1778.25" stroke="#A2321A" stroke-width="4" stroke-linecap="round"/>
<line x1="1645.38" y1="1795.25" x2="1645.38" y2="1806.25" stroke="#A2321A" stroke-width="3.5" stroke-linecap="butt"/>
<line x1="1636.12" y1="1806.25" x2="1654.62" y2="1806.25" stroke="#A2321A" stroke-width="4" stroke-linecap="round"/>
<path d="M1688.25,1895.10 V1799.25 H1722.50 V1895.10" fill="none" stroke="#17A05C" stroke-width="4.5" stroke-linejoin="miter" stroke-linecap="butt"/>
<line x1="1705.38" y1="1799.00" x2="1705.38" y2="1782.50" stroke="#17A05C" stroke-width="3.5" stroke-linecap="butt"/>
<line x1="1696.12" y1="1782.50" x2="1714.62" y2="1782.50" stroke="#17A05C" stroke-width="4" stroke-linecap="round"/>
<line x1="1705.38" y1="1799.00" x2="1705.38" y2="1810.00" stroke="#17A05C" stroke-width="3.5" stroke-linecap="butt"/>
<line x1="1696.12" y1="1810.00" x2="1714.62" y2="1810.00" stroke="#17A05C" stroke-width="4" stroke-linecap="round"/>
<path d="M1748.25,1895.10 V1779.75 H1782.50 V1895.10" fill="none" stroke="#B5B4B6" stroke-width="4.5" stroke-linejoin="miter" stroke-linecap="butt"/>
<line x1="1765.38" y1="1779.50" x2="1765.38" y2="1756.75" stroke="#B5B4B6" stroke-width="3.5" stroke-linecap="butt"/>
<line x1="1756.12" y1="1756.75" x2="1774.62" y2="1756.75" stroke="#B5B4B6" stroke-width="4" stroke-linecap="round"/>
<line x1="1765.38" y1="1779.50" x2="1765.38" y2="1795.75" stroke="#B5B4B6" stroke-width="3.5" stroke-linecap="butt"/>
<line x1="1756.12" y1="1795.75" x2="1774.62" y2="1795.75" stroke="#B5B4B6" stroke-width="4" stroke-linecap="round"/>
<path d="M1807.50,1895.10 V1787.75 H1843.25 V1895.10" fill="none" stroke="#A2321A" stroke-width="3" stroke-linejoin="miter" stroke-linecap="butt"/>
<line x1="1825.38" y1="1788.25" x2="1825.38" y2="1783.00" stroke="#A2321A" stroke-width="3.5" stroke-linecap="butt"/>
<line x1="1816.12" y1="1783.00" x2="1834.62" y2="1783.00" stroke="#A2321A" stroke-width="4" stroke-linecap="round"/>
<line x1="1825.38" y1="1788.25" x2="1825.38" y2="1787.50" stroke="#A2321A" stroke-width="3.5" stroke-linecap="butt"/>
<line x1="1816.12" y1="1787.50" x2="1834.62" y2="1787.50" stroke="#A2321A" stroke-width="4" stroke-linecap="round"/>
<path d="M1401.75,1788.75 V1571.3 H1462.4 V1581" fill="none" stroke="#000" stroke-width="3.6" stroke-linecap="round" stroke-linejoin="miter"/>
<path d="M1468.6,1581 V1571.3 H1705.5 V1641" fill="none" stroke="#000" stroke-width="3.6" stroke-linecap="round" stroke-linejoin="miter"/>
<path d="M1516.75,1651.25 V1641.75 H1842.5 V1651.25" fill="none" stroke="#000" stroke-width="3.5" stroke-linecap="round" stroke-linejoin="miter"/>
<text transform="translate(1421.85,1572.20)" font-family='"Liberation Sans", Arial, sans-serif' font-weight="bold" font-size="25.00" fill="#000">**</text>
<text transform="translate(1575.87,1753.58)" font-family='"Liberation Sans", Arial, sans-serif' font-weight="bold" font-size="27.00" fill="#000">**</text>
<text transform="translate(1634.47,1774.83)" font-family='"Liberation Sans", Arial, sans-serif' font-weight="bold" font-size="27.00" fill="#000">**</text>
<text transform="translate(1695.47,1782.33)" font-family='"Liberation Sans", Arial, sans-serif' font-weight="bold" font-size="27.00" fill="#000">**</text>
<text transform="translate(1755.47,1760.58)" font-family='"Liberation Sans", Arial, sans-serif' font-weight="bold" font-size="27.00" fill="#000">**</text>
<text transform="translate(1815.47,1782.33)" font-family='"Liberation Sans", Arial, sans-serif' font-weight="bold" font-size="27.00" fill="#000">**</text>
<text transform="translate(1503.90,1682.50) scale(1.0725,1)" font-family='"Liberation Sans", Arial, sans-serif' font-weight="normal" font-size="33.00" fill="#000">ns</text>
<text transform="translate(1210.66,1952.50) scale(0.9037,1)" font-family='"Liberation Sans", Arial, sans-serif' font-weight="bold" font-size="30.50" fill="#000">PCN-100μM</text>
<text transform="translate(1223.16,2001.25) scale(0.9041,1)" font-family='"Liberation Sans", Arial, sans-serif' font-weight="bold" font-size="30.50" fill="#000">NAC-50μM</text>
<text transform="translate(1166.92,2047.50) scale(0.8993,1)" font-family='"Liberation Sans", Arial, sans-serif' font-weight="bold" font-size="30.50" fill="#000">L-NAME-200μM</text>
<text transform="translate(1244.58,2090.50) scale(0.9004,1)" font-family='"Liberation Sans", Arial, sans-serif' font-weight="bold" font-size="30.50" fill="#000">JQ1-1μM</text>
<text transform="translate(1400.87,1953.28) scale(1.1800,1)" font-family='"Liberation Sans", Arial, sans-serif' font-weight="bold" font-size="30.00" fill="#000">-</text>
<text transform="translate(1459.22,1953.28)" font-family='"Liberation Sans", Arial, sans-serif' font-weight="bold" font-size="30.00" fill="#000">+</text>
<text transform="translate(1520.22,1953.28)" font-family='"Liberation Sans", Arial, sans-serif' font-weight="bold" font-size="30.00" fill="#000">+</text>
<text transform="translate(1576.22,1953.28)" font-family='"Liberation Sans", Arial, sans-serif' font-weight="bold" font-size="30.00" fill="#000">+</text>
<text transform="translate(1635.97,1953.28)" font-family='"Liberation Sans", Arial, sans-serif' font-weight="bold" font-size="30.00" fill="#000">+</text>
<text transform="translate(1699.97,1953.28)" font-family='"Liberation Sans", Arial, sans-serif' font-weight="bold" font-size="30.00" fill="#000">+</text>
<text transform="translate(1757.97,1953.28)" font-family='"Liberation Sans", Arial, sans-serif' font-weight="bold" font-size="30.00" fill="#000">+</text>
<text transform="translate(1822.97,1953.28)" font-family='"Liberation Sans", Arial, sans-serif' font-weight="bold" font-size="30.00" fill="#000">+</text>
<text transform="translate(1400.87,1999.58) scale(1.1800,1)" font-family='"Liberation Sans", Arial, sans-serif' font-weight="bold" font-size="30.00" fill="#000">-</text>
<text transform="translate(1462.12,1999.58) scale(1.1800,1)" font-family='"Liberation Sans", Arial, sans-serif' font-weight="bold" font-size="30.00" fill="#000">-</text>
<text transform="translate(1520.22,1999.58)" font-family='"Liberation Sans", Arial, sans-serif' font-weight="bold" font-size="30.00" fill="#000">+</text>
<text transform="translate(1579.12,1999.58) scale(1.1800,1)" font-family='"Liberation Sans", Arial, sans-serif' font-weight="bold" font-size="30.00" fill="#000">-</text>
<text transform="translate(1638.87,1999.58) scale(1.1800,1)" font-family='"Liberation Sans", Arial, sans-serif' font-weight="bold" font-size="30.00" fill="#000">-</text>
<text transform="translate(1699.97,1999.58)" font-family='"Liberation Sans", Arial, sans-serif' font-weight="bold" font-size="30.00" fill="#000">+</text>
<text transform="translate(1760.87,1999.58) scale(1.1800,1)" font-family='"Liberation Sans", Arial, sans-serif' font-weight="bold" font-size="30.00" fill="#000">-</text>
<text transform="translate(1822.97,1999.58)" font-family='"Liberation Sans", Arial, sans-serif' font-weight="bold" font-size="30.00" fill="#000">+</text>
<text transform="translate(1400.87,2048.48) scale(1.1800,1)" font-family='"Liberation Sans", Arial, sans-serif' font-weight="bold" font-size="30.00" fill="#000">-</text>
<text transform="translate(1462.12,2048.48) scale(1.1800,1)" font-family='"Liberation Sans", Arial, sans-serif' font-weight="bold" font-size="30.00" fill="#000">-</text>
<text transform="translate(1523.12,2048.48) scale(1.1800,1)" font-family='"Liberation Sans", Arial, sans-serif' font-weight="bold" font-size="30.00" fill="#000">-</text>
<text transform="translate(1576.22,2048.48)" font-family='"Liberation Sans", Arial, sans-serif' font-weight="bold" font-size="30.00" fill="#000">+</text>
<text transform="translate(1638.87,2048.48) scale(1.1800,1)" font-family='"Liberation Sans", Arial, sans-serif' font-weight="bold" font-size="30.00" fill="#000">-</text>
<text transform="translate(1702.87,2048.48) scale(1.1800,1)" font-family='"Liberation Sans", Arial, sans-serif' font-weight="bold" font-size="30.00" fill="#000">-</text>
<text transform="translate(1757.97,2048.48)" font-family='"Liberation Sans", Arial, sans-serif' font-weight="bold" font-size="30.00" fill="#000">+</text>
<text transform="translate(1822.97,2048.48)" font-family='"Liberation Sans", Arial, sans-serif' font-weight="bold" font-size="30.00" fill="#000">+</text>
<text transform="translate(1400.87,2093.68) scale(1.1800,1)" font-family='"Liberation Sans", Arial, sans-serif' font-weight="bold" font-size="30.00" fill="#000">-</text>
<text transform="translate(1462.12,2093.68) scale(1.1800,1)" font-family='"Liberation Sans", Arial, sans-serif' font-weight="bold" font-size="30.00" fill="#000">-</text>
<text transform="translate(1523.12,2093.68) scale(1.1800,1)" font-family='"Liberation Sans", Arial, sans-serif' font-weight="bold" font-size="30.00" fill="#000">-</text>
<text transform="translate(1579.12,2093.68) scale(1.1800,1)" font-family='"Liberation Sans", Arial, sans-serif' font-weight="bold" font-size="30.00" fill="#000">-</text>
<text transform="translate(1635.97,2093.68)" font-family='"Liberation Sans", Arial, sans-serif' font-weight="bold" font-size="30.00" fill="#000">+</text>
<text transform="translate(1699.97,2093.68)" font-family='"Liberation Sans", Arial, sans-serif' font-weight="bold" font-size="30.00" fill="#000">+</text>
<text transform="translate(1757.97,2093.68)" font-family='"Liberation Sans", Arial, sans-serif' font-weight="bold" font-size="30.00" fill="#000">+</text>
<text transform="translate(1822.97,2093.68)" font-family='"Liberation Sans", Arial, sans-serif' font-weight="bold" font-size="30.00" fill="#000">+</text>
</svg>
</body></html>
